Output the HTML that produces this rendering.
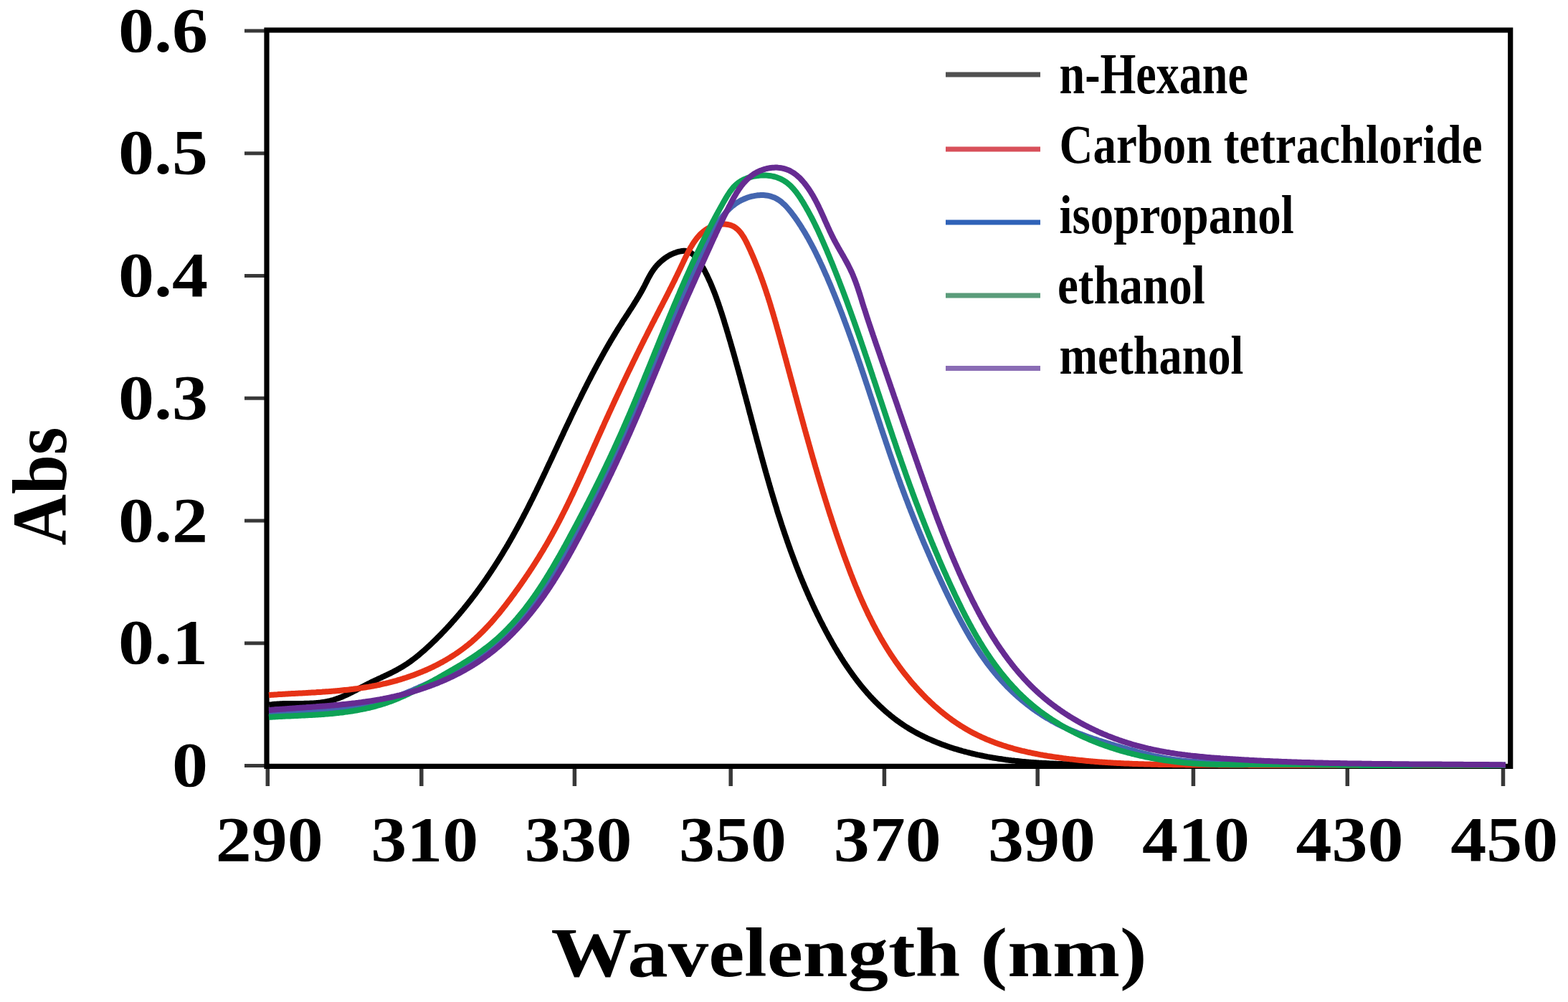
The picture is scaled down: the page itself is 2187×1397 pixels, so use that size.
<!DOCTYPE html>
<html><head><meta charset="utf-8"><title>Absorption spectra</title>
<style>html,body{margin:0;padding:0;background:#fff;width:2187px;height:1397px;overflow:hidden}svg{display:block}</style>
</head><body><div id="wrap">
<svg width="2187" height="1397" viewBox="0 0 2187 1397">
<g>
<rect width="100%" height="100%" fill="#fff"/>
<g font-family="'Liberation Serif', 'Times New Roman', serif" font-weight="bold" fill="#000">
<text transform="translate(290.0,1096.0) scale(1.1200,1)" font-size="89.3" text-anchor="end" >0</text>
<text transform="translate(290.0,925.2) scale(1.1200,1)" font-size="89.3" text-anchor="end" >0.1</text>
<text transform="translate(290.0,754.5) scale(1.1200,1)" font-size="89.3" text-anchor="end" >0.2</text>
<text transform="translate(290.0,583.8) scale(1.1200,1)" font-size="89.3" text-anchor="end" >0.3</text>
<text transform="translate(290.0,413.0) scale(1.1200,1)" font-size="89.3" text-anchor="end" >0.4</text>
<text transform="translate(290.0,242.2) scale(1.1200,1)" font-size="89.3" text-anchor="end" >0.5</text>
<text transform="translate(290.0,71.5) scale(1.1200,1)" font-size="89.3" text-anchor="end" >0.6</text>
<text transform="translate(375.7,1199.5) scale(1.1200,1)" font-size="89.3" text-anchor="middle" >290</text>
<text transform="translate(592.2,1199.5) scale(1.1200,1)" font-size="89.3" text-anchor="middle" >310</text>
<text transform="translate(806.5,1199.5) scale(1.1200,1)" font-size="89.3" text-anchor="middle" >330</text>
<text transform="translate(1021.9,1199.5) scale(1.1200,1)" font-size="89.3" text-anchor="middle" >350</text>
<text transform="translate(1237.7,1199.5) scale(1.1200,1)" font-size="89.3" text-anchor="middle" >370</text>
<text transform="translate(1453.0,1199.5) scale(1.1200,1)" font-size="89.3" text-anchor="middle" >390</text>
<text transform="translate(1668.0,1199.5) scale(1.1200,1)" font-size="89.3" text-anchor="middle" >410</text>
<text transform="translate(1882.5,1199.5) scale(1.1200,1)" font-size="89.3" text-anchor="middle" >430</text>
<text transform="translate(2098.3,1199.5) scale(1.1200,1)" font-size="89.3" text-anchor="middle" >450</text>
<text transform="translate(768.6,1360.8) scale(1.1640,1)" font-size="97" text-anchor="start" >Wavelength (nm)</text>
<text transform="translate(91.6,760.5) rotate(-90) scale(0.99,1.08)" font-size="100">Abs</text>
<text transform="translate(1477.5,129.7) scale(0.8010,1)" font-size="80" text-anchor="start" >n-Hexane</text>
<text transform="translate(1477.5,227.4) scale(0.8550,1)" font-size="76" text-anchor="start" >Carbon tetrachloride</text>
<text transform="translate(1477.5,325.1) scale(0.8550,1)" font-size="76" text-anchor="start" >isopropanol</text>
<text transform="translate(1475.0,422.8) scale(0.8550,1)" font-size="76" text-anchor="start" >ethanol</text>
<text transform="translate(1477.5,520.5) scale(0.8450,1)" font-size="76" text-anchor="start" >methanol</text>
</g>
<line x1="1319" y1="104" x2="1451" y2="104" stroke="#505050" stroke-width="7"/>
<line x1="1319" y1="208" x2="1451" y2="208" stroke="#d8505a" stroke-width="7"/>
<line x1="1319" y1="310" x2="1451" y2="310" stroke="#2f62b8" stroke-width="7"/>
<line x1="1319" y1="412" x2="1451" y2="412" stroke="#5a9c7a" stroke-width="7"/>
<line x1="1319" y1="513.6" x2="1451" y2="513.6" stroke="#8a6cb4" stroke-width="7"/>
<line x1="341" y1="1067.5" x2="372.0" y2="1067.5" stroke="#383838" stroke-width="5"/>
<line x1="341" y1="896.8" x2="372.0" y2="896.8" stroke="#383838" stroke-width="5"/>
<line x1="341" y1="726.0" x2="372.0" y2="726.0" stroke="#383838" stroke-width="5"/>
<line x1="341" y1="555.2" x2="372.0" y2="555.2" stroke="#383838" stroke-width="5"/>
<line x1="341" y1="384.5" x2="372.0" y2="384.5" stroke="#383838" stroke-width="5"/>
<line x1="341" y1="213.8" x2="372.0" y2="213.8" stroke="#383838" stroke-width="5"/>
<line x1="341" y1="43.0" x2="372.0" y2="43.0" stroke="#383838" stroke-width="5"/>
<line x1="373.3" y1="1068.4" x2="373.3" y2="1096" stroke="#383838" stroke-width="5.5"/>
<line x1="587.8" y1="1068.4" x2="587.8" y2="1096" stroke="#383838" stroke-width="5.5"/>
<line x1="801.4" y1="1068.4" x2="801.4" y2="1096" stroke="#383838" stroke-width="5.5"/>
<line x1="1019.2" y1="1068.4" x2="1019.2" y2="1096" stroke="#383838" stroke-width="5.5"/>
<line x1="1233.4" y1="1068.4" x2="1233.4" y2="1096" stroke="#383838" stroke-width="5.5"/>
<line x1="1447.2" y1="1068.4" x2="1447.2" y2="1096" stroke="#383838" stroke-width="5.5"/>
<line x1="1664.4" y1="1068.4" x2="1664.4" y2="1096" stroke="#383838" stroke-width="5.5"/>
<line x1="1879.3" y1="1068.4" x2="1879.3" y2="1096" stroke="#383838" stroke-width="5.5"/>
<line x1="2096.5" y1="1068.4" x2="2096.5" y2="1096" stroke="#383838" stroke-width="5.5"/>
<rect x="372.0" y="42.0" width="1734.6999999999998" height="1026.4" fill="none" stroke="#000" stroke-width="7.2"/>
<path d="M375.2,982.8 377.1,982.5 379.1,982.3 381.1,982.0 383.1,981.8 385.1,981.7 387.1,981.5 389.1,981.4 391.1,981.3 393.1,981.2 395.1,981.1 397.1,981.1 399.1,981.0 401.1,981.0 403.1,981.0 405.1,981.0 407.1,981.0 409.1,980.9 411.1,980.9 413.1,980.9 415.1,980.9 417.0,980.9 419.0,980.9 421.0,980.9 423.0,980.9 425.0,980.8 427.0,980.8 429.0,980.7 431.0,980.7 433.0,980.6 435.0,980.5 437.0,980.4 439.0,980.2 441.0,980.1 443.0,979.9 445.0,979.7 447.0,979.5 449.0,979.2 450.9,978.9 452.9,978.6 454.9,978.3 456.8,977.9 458.8,977.5 460.7,977.0 462.7,976.5 464.6,976.0 466.5,975.4 468.4,974.8 470.3,974.1 472.2,973.4 474.0,972.7 475.9,972.0 477.8,971.2 479.6,970.4 481.4,969.6 483.2,968.8 485.0,968.0 486.8,967.1 488.6,966.2 490.4,965.3 492.2,964.4 494.0,963.5 495.8,962.6 497.5,961.7 499.3,960.7 501.1,959.8 502.8,958.9 504.6,957.9 506.4,957.0 508.2,956.1 509.9,955.2 511.7,954.3 513.5,953.4 515.3,952.5 517.1,951.6 518.9,950.7 520.7,949.8 522.5,949.0 524.3,948.1 526.1,947.3 527.9,946.4 529.7,945.6 531.5,944.8 533.3,943.9 535.2,943.1 537.0,942.2 538.8,941.4 540.6,940.5 542.4,939.7 544.2,938.8 546.0,937.9 547.8,937.0 549.5,936.1 551.3,935.2 553.1,934.3 554.8,933.3 556.6,932.3 558.3,931.3 560.1,930.3 561.8,929.3 563.5,928.2 565.1,927.2 566.8,926.1 568.5,925.0 570.1,923.8 571.8,922.7 573.4,921.5 575.0,920.3 576.6,919.1 578.2,917.9 579.8,916.7 581.3,915.4 582.9,914.2 584.4,912.9 586.0,911.6 587.5,910.3 589.0,909.0 590.5,907.7 592.0,906.4 593.5,905.1 595.0,903.7 596.4,902.4 597.9,901.0 599.4,899.7 600.8,898.3 602.3,896.9 603.7,895.5 605.2,894.1 606.6,892.8 608.0,891.4 609.4,889.9 610.8,888.5 612.3,887.1 613.7,885.7 615.1,884.3 616.5,882.8 617.8,881.4 619.2,880.0 620.6,878.5 622.0,877.0 623.3,875.6 624.7,874.1 626.0,872.7 627.4,871.2 628.7,869.7 630.1,868.2 631.4,866.7 632.7,865.2 634.1,863.7 635.4,862.2 636.7,860.7 638.0,859.2 639.3,857.7 640.6,856.2 641.9,854.6 643.1,853.1 644.4,851.6 645.7,850.0 647.0,848.5 648.2,846.9 649.5,845.4 650.7,843.8 652.0,842.2 653.2,840.7 654.5,839.1 655.7,837.5 656.9,836.0 658.1,834.4 659.3,832.8 660.6,831.2 661.8,829.6 663.0,828.0 664.2,826.4 665.3,824.8 666.5,823.2 667.7,821.6 668.9,820.0 670.1,818.3 671.2,816.7 672.4,815.1 673.5,813.5 674.7,811.8 675.8,810.2 677.0,808.5 678.1,806.9 679.2,805.3 680.4,803.6 681.5,801.9 682.6,800.3 683.7,798.6 684.8,797.0 685.9,795.3 687.0,793.6 688.1,792.0 689.2,790.3 690.3,788.6 691.4,786.9 692.5,785.2 693.5,783.6 694.6,781.9 695.7,780.2 696.7,778.5 697.8,776.8 698.8,775.1 699.9,773.4 700.9,771.7 701.9,770.0 703.0,768.2 704.0,766.5 705.0,764.8 706.1,763.1 707.1,761.4 708.1,759.7 709.1,757.9 710.1,756.2 711.1,754.5 712.1,752.7 713.1,751.0 714.1,749.3 715.1,747.5 716.0,745.8 717.0,744.0 718.0,742.3 718.9,740.5 719.9,738.8 720.9,737.0 721.8,735.3 722.8,733.5 723.7,731.8 724.7,730.0 725.6,728.3 726.6,726.5 727.5,724.7 728.4,723.0 729.4,721.2 730.3,719.4 731.2,717.6 732.1,715.9 733.1,714.1 734.0,712.3 734.9,710.5 735.8,708.8 736.7,707.0 737.6,705.2 738.5,703.4 739.4,701.6 740.3,699.8 741.2,698.0 742.1,696.3 743.0,694.5 743.9,692.7 744.7,690.9 745.6,689.1 746.5,687.3 747.4,685.5 748.3,683.7 749.1,681.9 750.0,680.1 750.9,678.3 751.7,676.5 752.6,674.7 753.5,672.9 754.3,671.1 755.2,669.3 756.1,667.5 756.9,665.7 757.8,663.9 758.6,662.1 759.5,660.3 760.3,658.5 761.2,656.7 762.0,654.9 762.9,653.0 763.7,651.2 764.6,649.4 765.4,647.6 766.3,645.8 767.1,644.0 768.0,642.2 768.8,640.4 769.7,638.6 770.5,636.8 771.4,634.9 772.2,633.1 773.0,631.3 773.9,629.5 774.7,627.7 775.6,625.9 776.4,624.1 777.3,622.3 778.1,620.4 778.9,618.6 779.8,616.8 780.6,615.0 781.5,613.2 782.3,611.4 783.2,609.6 784.0,607.8 784.9,606.0 785.7,604.1 786.5,602.3 787.4,600.5 788.2,598.7 789.1,596.9 789.9,595.1 790.8,593.3 791.6,591.5 792.5,589.7 793.4,587.9 794.2,586.1 795.1,584.3 795.9,582.5 796.8,580.6 797.6,578.8 798.5,577.0 799.4,575.2 800.2,573.4 801.1,571.6 802.0,569.8 802.8,568.0 803.7,566.2 804.6,564.4 805.5,562.6 806.3,560.8 807.2,559.0 808.1,557.3 809.0,555.5 809.9,553.7 810.7,551.9 811.6,550.1 812.5,548.3 813.4,546.5 814.3,544.7 815.2,542.9 816.1,541.1 817.0,539.4 817.9,537.6 818.8,535.8 819.7,534.0 820.6,532.2 821.5,530.5 822.5,528.7 823.4,526.9 824.3,525.1 825.2,523.4 826.1,521.6 827.1,519.8 828.0,518.1 828.9,516.3 829.9,514.5 830.8,512.8 831.8,511.0 832.7,509.2 833.7,507.5 834.6,505.7 835.6,504.0 836.5,502.2 837.5,500.5 838.5,498.7 839.4,497.0 840.4,495.2 841.4,493.5 842.3,491.7 843.3,490.0 844.3,488.3 845.3,486.5 846.3,484.8 847.3,483.0 848.3,481.3 849.3,479.6 850.3,477.9 851.3,476.1 852.3,474.4 853.4,472.7 854.4,471.0 855.4,469.3 856.4,467.6 857.5,465.8 858.5,464.1 859.6,462.4 860.6,460.7 861.6,459.0 862.7,457.3 863.8,455.6 864.8,454.0 865.9,452.3 867.0,450.6 868.0,448.9 869.1,447.2 870.2,445.5 871.3,443.9 872.4,442.2 873.5,440.5 874.6,438.8 875.7,437.2 876.8,435.5 877.8,433.8 878.9,432.1 880.0,430.5 881.1,428.8 882.2,427.1 883.3,425.4 884.3,423.7 885.4,422.0 886.4,420.3 887.5,418.6 888.5,416.9 889.6,415.2 890.6,413.5 891.6,411.8 892.6,410.1 893.6,408.3 894.6,406.6 895.6,404.8 896.5,403.1 897.5,401.3 898.4,399.5 899.3,397.8 900.2,396.0 901.1,394.2 902.0,392.4 902.9,390.6 903.8,388.8 904.7,387.1 905.7,385.3 906.7,383.6 907.7,381.8 908.7,380.1 909.8,378.4 910.9,376.8 912.1,375.2 913.3,373.6 914.5,372.0 915.8,370.5 917.2,369.0 918.6,367.6 920.0,366.2 921.5,364.8 923.0,363.5 924.5,362.2 926.1,361.0 927.7,359.8 929.3,358.7 931.0,357.6 932.7,356.6 934.5,355.6 936.3,354.7 938.1,353.9 939.9,353.1 941.8,352.4 943.7,351.7 945.6,351.2 947.5,350.7 949.5,350.3 951.5,350.0 953.4,349.8 955.4,349.8 957.4,350.1 959.4,350.6 961.2,351.3 963.0,352.2 964.7,353.2 966.3,354.4 967.8,355.8 969.2,357.2 970.6,358.6 971.9,360.2 973.1,361.7 974.3,363.3 975.4,365.0 976.5,366.6 977.6,368.3 978.6,370.0 979.7,371.8 980.7,373.5 981.6,375.2 982.6,377.0 983.5,378.8 984.4,380.6 985.3,382.3 986.2,384.1 987.0,385.9 987.9,387.8 988.7,389.6 989.5,391.4 990.4,393.2 991.2,395.0 991.9,396.9 992.7,398.7 993.5,400.6 994.2,402.4 995.0,404.3 995.7,406.1 996.5,408.0 997.2,409.9 997.9,411.7 998.6,413.6 999.3,415.5 999.9,417.4 1000.6,419.2 1001.3,421.1 1001.9,423.0 1002.6,424.9 1003.2,426.8 1003.9,428.7 1004.5,430.6 1005.1,432.5 1005.7,434.4 1006.4,436.3 1007.0,438.2 1007.6,440.1 1008.2,442.0 1008.8,443.9 1009.4,445.8 1010.0,447.7 1010.5,449.6 1011.1,451.5 1011.7,453.5 1012.3,455.4 1012.9,457.3 1013.5,459.2 1014.0,461.1 1014.6,463.0 1015.2,464.9 1015.7,466.9 1016.3,468.8 1016.9,470.7 1017.4,472.6 1018.0,474.5 1018.6,476.4 1019.1,478.4 1019.7,480.3 1020.2,482.2 1020.8,484.1 1021.3,486.0 1021.9,488.0 1022.4,489.9 1023.0,491.8 1023.5,493.7 1024.1,495.6 1024.6,497.6 1025.2,499.5 1025.7,501.4 1026.2,503.3 1026.8,505.3 1027.3,507.2 1027.8,509.1 1028.4,511.0 1028.9,513.0 1029.4,514.9 1030.0,516.8 1030.5,518.8 1031.0,520.7 1031.6,522.6 1032.1,524.5 1032.6,526.5 1033.1,528.4 1033.7,530.3 1034.2,532.3 1034.7,534.2 1035.2,536.1 1035.7,538.0 1036.3,540.0 1036.8,541.9 1037.3,543.8 1037.8,545.8 1038.3,547.7 1038.8,549.6 1039.4,551.6 1039.9,553.5 1040.4,555.4 1040.9,557.3 1041.4,559.3 1041.9,561.2 1042.5,563.1 1043.0,565.1 1043.5,567.0 1044.0,568.9 1044.5,570.9 1045.0,572.8 1045.5,574.7 1046.0,576.7 1046.6,578.6 1047.1,580.5 1047.6,582.5 1048.1,584.4 1048.6,586.3 1049.1,588.2 1049.6,590.2 1050.2,592.1 1050.7,594.0 1051.2,596.0 1051.7,597.9 1052.2,599.8 1052.7,601.8 1053.2,603.7 1053.8,605.6 1054.3,607.6 1054.8,609.5 1055.3,611.4 1055.8,613.4 1056.3,615.3 1056.9,617.2 1057.4,619.1 1057.9,621.1 1058.4,623.0 1059.0,624.9 1059.5,626.9 1060.0,628.8 1060.5,630.7 1061.1,632.6 1061.6,634.6 1062.1,636.5 1062.6,638.4 1063.2,640.4 1063.7,642.3 1064.2,644.2 1064.8,646.1 1065.3,648.1 1065.8,650.0 1066.4,651.9 1066.9,653.8 1067.4,655.8 1068.0,657.7 1068.5,659.6 1069.1,661.5 1069.6,663.4 1070.2,665.4 1070.7,667.3 1071.3,669.2 1071.8,671.1 1072.4,673.1 1072.9,675.0 1073.5,676.9 1074.0,678.8 1074.6,680.7 1075.2,682.7 1075.7,684.6 1076.3,686.5 1076.9,688.4 1077.4,690.3 1078.0,692.2 1078.6,694.1 1079.2,696.1 1079.7,698.0 1080.3,699.9 1080.9,701.8 1081.5,703.7 1082.1,705.6 1082.7,707.5 1083.3,709.4 1083.8,711.3 1084.4,713.3 1085.0,715.2 1085.6,717.1 1086.2,719.0 1086.9,720.9 1087.5,722.8 1088.1,724.7 1088.7,726.6 1089.3,728.5 1089.9,730.4 1090.5,732.3 1091.2,734.2 1091.8,736.1 1092.4,738.0 1093.1,739.9 1093.7,741.8 1094.3,743.7 1095.0,745.6 1095.6,747.4 1096.3,749.3 1096.9,751.2 1097.6,753.1 1098.2,755.0 1098.9,756.9 1099.6,758.8 1100.2,760.7 1100.9,762.5 1101.6,764.4 1102.2,766.3 1102.9,768.2 1103.6,770.1 1104.3,771.9 1105.0,773.8 1105.7,775.7 1106.4,777.6 1107.1,779.4 1107.8,781.3 1108.5,783.2 1109.2,785.0 1109.9,786.9 1110.6,788.8 1111.3,790.6 1112.1,792.5 1112.8,794.4 1113.5,796.2 1114.3,798.1 1115.0,799.9 1115.7,801.8 1116.5,803.6 1117.2,805.5 1118.0,807.3 1118.8,809.2 1119.5,811.0 1120.3,812.9 1121.1,814.7 1121.8,816.6 1122.6,818.4 1123.4,820.2 1124.2,822.1 1125.0,823.9 1125.8,825.7 1126.6,827.6 1127.4,829.4 1128.2,831.2 1129.0,833.1 1129.8,834.9 1130.7,836.7 1131.5,838.5 1132.3,840.3 1133.2,842.2 1134.0,844.0 1134.8,845.8 1135.7,847.6 1136.5,849.4 1137.4,851.2 1138.3,853.0 1139.1,854.8 1140.0,856.6 1140.9,858.4 1141.8,860.2 1142.7,862.0 1143.5,863.8 1144.4,865.6 1145.3,867.3 1146.3,869.1 1147.2,870.9 1148.1,872.7 1149.0,874.5 1149.9,876.2 1150.9,878.0 1151.8,879.8 1152.7,881.5 1153.7,883.3 1154.6,885.0 1155.6,886.8 1156.5,888.6 1157.5,890.3 1158.5,892.0 1159.5,893.8 1160.4,895.5 1161.4,897.3 1162.4,899.0 1163.4,900.7 1164.4,902.5 1165.4,904.2 1166.5,905.9 1167.5,907.6 1168.5,909.3 1169.6,911.0 1170.6,912.7 1171.7,914.4 1172.7,916.1 1173.8,917.8 1174.9,919.5 1175.9,921.2 1177.0,922.9 1178.1,924.5 1179.2,926.2 1180.3,927.9 1181.5,929.5 1182.6,931.2 1183.7,932.8 1184.9,934.5 1186.0,936.1 1187.2,937.7 1188.3,939.3 1189.5,941.0 1190.7,942.6 1191.9,944.2 1193.1,945.8 1194.3,947.4 1195.5,949.0 1196.7,950.5 1197.9,952.1 1199.2,953.7 1200.4,955.2 1201.7,956.8 1203.0,958.3 1204.2,959.9 1205.5,961.4 1206.8,962.9 1208.1,964.4 1209.4,965.9 1210.8,967.4 1212.1,968.9 1213.4,970.4 1214.8,971.9 1216.2,973.3 1217.5,974.8 1218.9,976.2 1220.3,977.7 1221.7,979.1 1223.1,980.5 1224.6,981.9 1226.0,983.3 1227.4,984.7 1228.9,986.0 1230.4,987.4 1231.8,988.8 1233.3,990.1 1234.8,991.4 1236.3,992.7 1237.8,994.0 1239.4,995.3 1240.9,996.6 1242.4,997.9 1244.0,999.1 1245.6,1000.4 1247.1,1001.6 1248.7,1002.8 1250.3,1004.0 1251.9,1005.2 1253.6,1006.3 1255.2,1007.5 1256.8,1008.6 1258.5,1009.8 1260.1,1010.9 1261.8,1012.0 1263.5,1013.1 1265.2,1014.1 1266.9,1015.2 1268.6,1016.2 1270.3,1017.2 1272.0,1018.3 1273.8,1019.3 1275.5,1020.2 1277.3,1021.2 1279.0,1022.2 1280.8,1023.1 1282.5,1024.0 1284.3,1024.9 1286.1,1025.8 1287.9,1026.7 1289.7,1027.6 1291.5,1028.4 1293.3,1029.3 1295.1,1030.1 1297.0,1030.9 1298.8,1031.7 1300.6,1032.5 1302.5,1033.3 1304.3,1034.1 1306.2,1034.8 1308.0,1035.6 1309.9,1036.3 1311.7,1037.0 1313.6,1037.7 1315.5,1038.4 1317.4,1039.1 1319.2,1039.8 1321.1,1040.4 1323.0,1041.1 1324.9,1041.7 1326.8,1042.4 1328.7,1043.0 1330.6,1043.6 1332.5,1044.2 1334.4,1044.7 1336.4,1045.3 1338.3,1045.9 1340.2,1046.4 1342.1,1047.0 1344.0,1047.5 1346.0,1048.0 1347.9,1048.5 1349.8,1049.0 1351.8,1049.5 1353.7,1050.0 1355.7,1050.5 1357.6,1051.0 1359.6,1051.4 1361.5,1051.8 1363.5,1052.3 1365.4,1052.7 1367.4,1053.1 1369.3,1053.5 1371.3,1053.9 1373.2,1054.3 1375.2,1054.7 1377.2,1055.1 1379.1,1055.4 1381.1,1055.8 1383.1,1056.1 1385.0,1056.5 1387.0,1056.8 1389.0,1057.1 1390.9,1057.4 1392.9,1057.8 1394.9,1058.1 1396.9,1058.3 1398.9,1058.6 1400.8,1058.9 1402.8,1059.2 1404.8,1059.4 1406.8,1059.7 1408.8,1059.9 1410.7,1060.2 1412.7,1060.4 1414.7,1060.6 1416.7,1060.9 1418.7,1061.1 1420.7,1061.3 1422.7,1061.5 1424.7,1061.7 1426.6,1061.9 1428.6,1062.0 1430.6,1062.2 1432.6,1062.4 1434.6,1062.6 1436.6,1062.7 1438.6,1062.9 1440.6,1063.0 1442.6,1063.2 1444.6,1063.3 1446.6,1063.4 1448.6,1063.6 1450.6,1063.7 1452.5,1063.8 1454.5,1063.9 1456.5,1064.0 1458.5,1064.1 1460.5,1064.2 1462.5,1064.3 1464.5,1064.4 1466.5,1064.5 1468.5,1064.6 1470.5,1064.7 1472.5,1064.8 1474.5,1064.9 1476.5,1064.9 1478.5,1065.0 1480.5,1065.1 1482.5,1065.2 1484.5,1065.2 1486.5,1065.3 1488.5,1065.3 1490.5,1065.4 1492.5,1065.4 1494.5,1065.5 1496.5,1065.6 1498.5,1065.6 1500.5,1065.6 1502.5,1065.7 1504.5,1065.7 1506.5,1065.8 1508.5,1065.8 1510.5,1065.9 1512.5,1065.9 1514.5,1065.9 1516.5,1066.0 1518.5,1066.0 1520.5,1066.0 1522.5,1066.1 1524.5,1066.1 1526.5,1066.1 1528.5,1066.2 1530.5,1066.2 1532.4,1066.2 1534.4,1066.3 1536.4,1066.3 1538.4,1066.3 1540.4,1066.4 1542.4,1066.4 1544.4,1066.4 1546.4,1066.4 1548.4,1066.5 1550.4,1066.5 1552.4,1066.5 1554.4,1066.5 1556.4,1066.6 1558.4,1066.6 1560.4,1066.6 1562.4,1066.6 1564.4,1066.6 1566.4,1066.7 1568.4,1066.7 1570.4,1066.7 1572.4,1066.7 1574.4,1066.7 1576.4,1066.8 1578.4,1066.8 1580.4,1066.8 1582.4,1066.8 1584.4,1066.8 1586.4,1066.8 1588.4,1066.8 1590.4,1066.9 1592.4,1066.9 1594.4,1066.9 1596.4,1066.9 1598.4,1066.9 1600.4,1066.9 1602.4,1066.9 1604.4,1066.9 1606.4,1066.9 1608.4,1066.9 1610.4,1067.0 1612.4,1067.0 1614.4,1067.0 1616.4,1067.0 1618.4,1067.0 1620.4,1067.0 1622.4,1067.0 1624.4,1067.0 1626.4,1067.0 1628.4,1067.0 1630.4,1067.0 1632.4,1067.0 1634.4,1067.0 1636.4,1067.0 1638.4,1067.0 1640.4,1067.0 1642.4,1067.0 1644.4,1067.0 1646.4,1067.0 1648.4,1067.0 1650.4,1067.0 1652.4,1067.1 1654.4,1067.1 1656.4,1067.1 1658.4,1067.1 1660.4,1067.1 1662.4,1067.1 1664.3,1067.1 1666.3,1067.1 1668.3,1067.1 1670.3,1067.1 1672.3,1067.1 1674.3,1067.1 1676.3,1067.1 1678.3,1067.1 1680.3,1067.1 1682.3,1067.1 1684.3,1067.1 1686.3,1067.1 1688.3,1067.1 1690.3,1067.1 1692.3,1067.1 1694.3,1067.1 1696.3,1067.1 1698.3,1067.1 1700.3,1067.1 1702.3,1067.0 1704.3,1067.0 1706.3,1067.0 1708.3,1067.0 1710.3,1067.0 1712.3,1067.0 1714.3,1067.0 1716.3,1067.0 1718.3,1067.0 1720.3,1067.0 1722.3,1067.0 1724.3,1067.0 1726.3,1067.0 1728.3,1067.0 1730.3,1067.0 1732.3,1067.0 1734.3,1067.0 1736.3,1067.0 1738.3,1067.0 1740.3,1067.0 1742.3,1067.0 1744.3,1067.0 1746.3,1067.0 1748.3,1067.0 1750.3,1067.0 1752.3,1067.0 1754.3,1067.0 1756.3,1067.0 1758.3,1067.0 1760.3,1067.0 1762.3,1067.0 1764.3,1067.0 1766.3,1067.0 1768.3,1067.0 1770.3,1067.0 1772.3,1067.0 1774.3,1067.0 1776.3,1067.0 1778.3,1067.0 1780.3,1067.0 1782.3,1067.0 1784.3,1067.0 1786.3,1067.0 1788.3,1067.0 1790.3,1067.0 1792.3,1067.0 1794.3,1067.0 1796.3,1067.0 1798.3,1067.0 1800.3,1067.0 1802.3,1067.0 1804.2,1067.0 1806.2,1067.0 1808.2,1067.0 1810.2,1067.0 1812.2,1067.0 1814.2,1067.0 1816.2,1067.0 1818.2,1067.0 1820.2,1067.0 1822.2,1067.0 1824.2,1067.0 1826.2,1067.0 1828.2,1067.0 1830.2,1067.0 1832.2,1067.0 1834.2,1067.0 1836.2,1067.0 1838.2,1067.0 1840.2,1067.0 1842.2,1067.0 1844.2,1067.0 1846.2,1067.0 1848.2,1067.0 1850.2,1067.0 1852.2,1067.0 1854.2,1067.0 1856.2,1067.0 1858.2,1067.0 1860.2,1067.0 1862.2,1067.0 1864.2,1067.0 1866.2,1067.0 1868.2,1067.0 1870.2,1067.0 1872.2,1067.0 1874.2,1067.0 1876.2,1067.0 1878.2,1067.0 1880.2,1067.0 1882.2,1067.0 1884.2,1067.0 1886.2,1067.0 1888.2,1067.0 1890.2,1067.0 1892.2,1067.0 1894.2,1067.0 1896.2,1067.0 1898.2,1067.0 1900.2,1067.0 1902.2,1067.0 1904.2,1067.0 1906.2,1067.0 1908.2,1067.0 1910.2,1067.0 1912.2,1067.0 1914.2,1067.0 1916.2,1067.0 1918.2,1067.0 1920.2,1067.0 1922.2,1067.0 1924.2,1067.0 1926.2,1067.0 1928.2,1067.0 1930.2,1067.0 1932.2,1067.0 1934.2,1067.0 1936.2,1067.0 1938.2,1067.0 1940.2,1067.0 1942.1,1067.0 1944.1,1067.0 1946.1,1067.0 1948.1,1067.0 1950.1,1067.0 1952.1,1067.0 1954.1,1067.0 1956.1,1067.0 1958.1,1067.0 1960.1,1067.0 1962.1,1067.0 1964.1,1067.0 1966.1,1067.0 1968.1,1067.0 1970.1,1067.0 1972.1,1067.0 1974.1,1067.0 1976.1,1067.0 1978.1,1067.0 1980.1,1067.0 1982.1,1067.0 1984.1,1067.0 1986.1,1067.0 1988.1,1067.0 1990.1,1067.0 1992.1,1067.0 1994.1,1067.0 1996.1,1067.0 1998.1,1067.0 2000.1,1067.0 2002.1,1067.0 2004.1,1067.0 2006.1,1067.0 2008.1,1067.0 2010.1,1067.0 2012.1,1067.0 2014.1,1067.0 2016.1,1067.0 2018.1,1067.0 2020.1,1067.0 2022.1,1067.0 2024.1,1067.0 2026.1,1067.0 2028.1,1067.0 2030.1,1067.0 2032.1,1067.0 2034.1,1067.0 2036.1,1067.0 2038.1,1067.0 2040.1,1067.0 2042.1,1067.0 2044.1,1067.0 2046.1,1067.0 2048.1,1067.0 2050.1,1067.0 2052.1,1067.0 2054.1,1067.0 2056.1,1067.0 2058.1,1067.0 2060.1,1067.0 2062.1,1067.0 2064.1,1067.0 2066.1,1067.0 2068.1,1067.0 2070.1,1067.0 2072.1,1067.0 2074.1,1067.0 2076.1,1067.0 2078.1,1067.0 2080.1,1067.0 2082.0,1067.0 2084.0,1067.0 2086.0,1067.0 2088.0,1067.0 2090.0,1067.0 2092.0,1067.0 2094.0,1067.0 2096.0,1067.0 2098.0,1067.0 2100.0,1067.0" fill="none" stroke="#000000" stroke-width="8" stroke-linejoin="round" stroke-linecap="butt"/>
<path d="M375.0,969.1 376.9,968.9 378.9,968.8 380.9,968.7 382.9,968.5 384.9,968.4 386.9,968.3 388.9,968.1 390.9,968.0 392.9,967.9 394.9,967.8 396.9,967.7 398.9,967.6 400.9,967.5 402.9,967.3 404.9,967.2 406.9,967.1 408.9,967.0 410.9,966.9 412.9,966.8 414.9,966.7 416.9,966.6 418.9,966.5 420.9,966.4 422.9,966.3 424.8,966.2 426.8,966.1 428.8,965.9 430.8,965.8 432.8,965.7 434.8,965.6 436.8,965.5 438.8,965.4 440.8,965.3 442.8,965.1 444.8,965.0 446.8,964.9 448.8,964.8 450.8,964.6 452.8,964.5 454.8,964.3 456.8,964.2 458.8,964.1 460.8,963.9 462.8,963.7 464.7,963.6 466.7,963.4 468.7,963.2 470.7,963.1 472.7,962.9 474.7,962.7 476.7,962.5 478.7,962.3 480.7,962.1 482.7,961.9 484.6,961.7 486.6,961.5 488.6,961.2 490.6,961.0 492.6,960.8 494.6,960.5 496.6,960.2 498.5,960.0 500.5,959.7 502.5,959.4 504.5,959.1 506.5,958.8 508.4,958.5 510.4,958.2 512.4,957.9 514.3,957.6 516.3,957.2 518.3,956.9 520.3,956.5 522.2,956.1 524.2,955.8 526.1,955.4 528.1,955.0 530.1,954.5 532.0,954.1 534.0,953.7 535.9,953.2 537.9,952.8 539.8,952.3 541.7,951.9 543.7,951.4 545.6,950.9 547.6,950.4 549.5,949.8 551.4,949.3 553.3,948.8 555.3,948.2 557.2,947.7 559.1,947.1 561.0,946.5 562.9,945.9 564.8,945.3 566.7,944.7 568.6,944.0 570.5,943.4 572.4,942.8 574.3,942.1 576.2,941.4 578.0,940.7 579.9,940.0 581.8,939.3 583.6,938.6 585.5,937.8 587.4,937.1 589.2,936.3 591.0,935.6 592.9,934.8 594.7,934.0 596.5,933.2 598.4,932.3 600.2,931.5 602.0,930.7 603.8,929.8 605.6,928.9 607.4,928.0 609.2,927.1 610.9,926.2 612.7,925.3 614.5,924.3 616.2,923.4 618.0,922.4 619.7,921.4 621.5,920.5 623.2,919.4 624.9,918.4 626.6,917.4 628.3,916.3 630.0,915.3 631.7,914.2 633.4,913.1 635.1,912.0 636.7,910.9 638.4,909.8 640.0,908.6 641.6,907.5 643.3,906.3 644.9,905.1 646.5,903.9 648.1,902.7 649.6,901.5 651.2,900.3 652.8,899.0 654.3,897.7 655.9,896.5 657.4,895.2 658.9,893.9 660.4,892.5 661.9,891.2 663.4,889.9 664.8,888.5 666.3,887.2 667.8,885.8 669.2,884.4 670.6,883.0 672.1,881.6 673.5,880.2 674.9,878.8 676.3,877.3 677.7,875.9 679.0,874.4 680.4,873.0 681.8,871.5 683.1,870.0 684.5,868.6 685.8,867.1 687.1,865.6 688.4,864.1 689.7,862.6 691.0,861.0 692.3,859.5 693.6,858.0 694.9,856.5 696.2,854.9 697.4,853.4 698.7,851.8 699.9,850.3 701.2,848.7 702.4,847.1 703.7,845.5 704.9,844.0 706.1,842.4 707.3,840.8 708.5,839.2 709.8,837.6 711.0,836.0 712.2,834.4 713.3,832.8 714.5,831.2 715.7,829.6 716.9,828.0 718.1,826.4 719.2,824.7 720.4,823.1 721.6,821.5 722.7,819.9 723.9,818.2 725.1,816.6 726.2,815.0 727.3,813.3 728.5,811.7 729.6,810.1 730.8,808.4 731.9,806.8 733.0,805.1 734.1,803.4 735.3,801.8 736.4,800.1 737.5,798.5 738.6,796.8 739.7,795.1 740.8,793.5 741.9,791.8 743.0,790.1 744.1,788.4 745.1,786.8 746.2,785.1 747.3,783.4 748.4,781.7 749.4,780.0 750.5,778.3 751.6,776.6 752.6,774.9 753.6,773.2 754.7,771.5 755.7,769.8 756.8,768.1 757.8,766.4 758.8,764.7 759.8,762.9 760.9,761.2 761.9,759.5 762.9,757.8 763.9,756.0 764.9,754.3 765.9,752.6 766.8,750.8 767.8,749.1 768.8,747.3 769.8,745.6 770.7,743.8 771.7,742.1 772.7,740.3 773.6,738.6 774.6,736.8 775.5,735.1 776.5,733.3 777.4,731.5 778.3,729.8 779.2,728.0 780.2,726.2 781.1,724.4 782.0,722.7 782.9,720.9 783.8,719.1 784.7,717.3 785.6,715.5 786.5,713.7 787.4,712.0 788.3,710.2 789.2,708.4 790.1,706.6 791.0,704.8 791.8,703.0 792.7,701.2 793.6,699.4 794.5,697.6 795.3,695.8 796.2,694.0 797.0,692.2 797.9,690.4 798.8,688.6 799.6,686.8 800.5,685.0 801.3,683.1 802.2,681.3 803.0,679.5 803.8,677.7 804.7,675.9 805.5,674.1 806.3,672.3 807.2,670.4 808.0,668.6 808.8,666.8 809.7,665.0 810.5,663.2 811.3,661.3 812.1,659.5 813.0,657.7 813.8,655.9 814.6,654.0 815.4,652.2 816.2,650.4 817.1,648.6 817.9,646.8 818.7,644.9 819.5,643.1 820.3,641.3 821.1,639.4 821.9,637.6 822.8,635.8 823.6,634.0 824.4,632.1 825.2,630.3 826.0,628.5 826.8,626.7 827.6,624.8 828.4,623.0 829.2,621.2 830.1,619.3 830.9,617.5 831.7,615.7 832.5,613.9 833.3,612.0 834.1,610.2 834.9,608.4 835.7,606.6 836.6,604.7 837.4,602.9 838.2,601.1 839.0,599.3 839.8,597.4 840.7,595.6 841.5,593.8 842.3,592.0 843.1,590.2 843.9,588.3 844.8,586.5 845.6,584.7 846.4,582.9 847.3,581.1 848.1,579.2 848.9,577.4 849.7,575.6 850.6,573.8 851.4,572.0 852.3,570.1 853.1,568.3 853.9,566.5 854.8,564.7 855.6,562.9 856.4,561.1 857.3,559.3 858.1,557.4 859.0,555.6 859.8,553.8 860.7,552.0 861.5,550.2 862.4,548.4 863.2,546.6 864.1,544.8 864.9,543.0 865.8,541.2 866.6,539.3 867.5,537.5 868.3,535.7 869.2,533.9 870.0,532.1 870.9,530.3 871.8,528.5 872.6,526.7 873.5,524.9 874.3,523.1 875.2,521.3 876.1,519.5 876.9,517.7 877.8,515.9 878.7,514.1 879.6,512.3 880.4,510.5 881.3,508.7 882.2,506.9 883.0,505.1 883.9,503.3 884.8,501.5 885.7,499.7 886.6,497.9 887.4,496.1 888.3,494.3 889.2,492.5 890.1,490.7 891.0,488.9 891.9,487.1 892.7,485.4 893.6,483.6 894.5,481.8 895.4,480.0 896.3,478.2 897.2,476.4 898.1,474.6 899.0,472.8 899.9,471.0 900.8,469.3 901.7,467.5 902.6,465.7 903.5,463.9 904.4,462.1 905.3,460.3 906.2,458.6 907.1,456.8 908.0,455.0 908.9,453.2 909.8,451.4 910.7,449.7 911.7,447.9 912.6,446.1 913.5,444.3 914.4,442.5 915.3,440.8 916.2,439.0 917.2,437.2 918.1,435.4 919.0,433.7 919.9,431.9 920.8,430.1 921.7,428.3 922.7,426.6 923.6,424.8 924.5,423.0 925.4,421.2 926.3,419.5 927.2,417.7 928.2,415.9 929.1,414.1 930.0,412.3 930.9,410.6 931.8,408.8 932.7,407.0 933.6,405.2 934.5,403.4 935.4,401.6 936.3,399.9 937.2,398.1 938.1,396.3 939.0,394.5 939.9,392.7 940.8,390.9 941.7,389.1 942.5,387.3 943.4,385.5 944.3,383.7 945.2,381.9 946.0,380.1 946.9,378.3 947.8,376.5 948.6,374.7 949.5,372.9 950.3,371.1 951.2,369.3 952.0,367.5 952.9,365.7 953.7,363.9 954.6,362.1 955.4,360.3 956.3,358.5 957.2,356.7 958.1,354.9 959.0,353.1 959.9,351.3 960.8,349.5 961.8,347.8 962.7,346.0 963.7,344.3 964.8,342.6 965.8,340.9 966.9,339.2 968.0,337.5 969.1,335.9 970.3,334.3 971.5,332.7 972.8,331.1 974.1,329.6 975.4,328.1 976.8,326.7 978.2,325.3 979.7,324.0 981.3,322.7 982.8,321.5 984.5,320.3 986.2,319.2 987.9,318.2 989.6,317.3 991.5,316.4 993.3,315.6 995.2,314.9 997.1,314.3 999.0,313.8 1001.0,313.4 1002.9,313.0 1004.9,312.8 1006.9,312.6 1008.9,312.5 1010.9,312.5 1012.9,312.7 1014.9,313.0 1016.8,313.4 1018.8,313.9 1020.6,314.6 1022.5,315.4 1024.2,316.3 1025.9,317.5 1027.5,318.7 1029.0,320.0 1030.4,321.4 1031.7,322.9 1033.0,324.4 1034.2,326.0 1035.3,327.7 1036.4,329.3 1037.5,331.0 1038.5,332.8 1039.4,334.5 1040.4,336.3 1041.3,338.1 1042.2,339.9 1043.0,341.7 1043.9,343.5 1044.7,345.3 1045.6,347.1 1046.4,348.9 1047.2,350.7 1048.0,352.6 1048.8,354.4 1049.6,356.2 1050.4,358.1 1051.2,359.9 1052.0,361.8 1052.7,363.6 1053.5,365.5 1054.2,367.3 1055.0,369.2 1055.7,371.0 1056.5,372.9 1057.2,374.7 1057.9,376.6 1058.6,378.5 1059.4,380.3 1060.1,382.2 1060.8,384.1 1061.4,386.0 1062.1,387.8 1062.8,389.7 1063.5,391.6 1064.2,393.5 1064.8,395.4 1065.5,397.2 1066.1,399.1 1066.8,401.0 1067.4,402.9 1068.1,404.8 1068.7,406.7 1069.3,408.6 1069.9,410.5 1070.6,412.4 1071.2,414.3 1071.8,416.2 1072.4,418.1 1073.0,420.0 1073.6,421.9 1074.2,423.9 1074.8,425.8 1075.3,427.7 1075.9,429.6 1076.5,431.5 1077.1,433.4 1077.6,435.3 1078.2,437.2 1078.8,439.2 1079.3,441.1 1079.9,443.0 1080.5,444.9 1081.0,446.8 1081.6,448.8 1082.1,450.7 1082.7,452.6 1083.2,454.5 1083.7,456.5 1084.3,458.4 1084.8,460.3 1085.4,462.2 1085.9,464.2 1086.4,466.1 1087.0,468.0 1087.5,469.9 1088.0,471.9 1088.6,473.8 1089.1,475.7 1089.6,477.7 1090.1,479.6 1090.7,481.5 1091.2,483.4 1091.7,485.4 1092.3,487.3 1092.8,489.2 1093.3,491.2 1093.8,493.1 1094.4,495.0 1094.9,496.9 1095.4,498.9 1095.9,500.8 1096.5,502.7 1097.0,504.7 1097.5,506.6 1098.0,508.5 1098.5,510.4 1099.1,512.4 1099.6,514.3 1100.1,516.2 1100.6,518.2 1101.2,520.1 1101.7,522.0 1102.2,524.0 1102.7,525.9 1103.2,527.8 1103.8,529.7 1104.3,531.7 1104.8,533.6 1105.3,535.5 1105.8,537.5 1106.4,539.4 1106.9,541.3 1107.4,543.3 1107.9,545.2 1108.5,547.1 1109.0,549.0 1109.5,551.0 1110.0,552.9 1110.6,554.8 1111.1,556.8 1111.6,558.7 1112.1,560.6 1112.6,562.6 1113.2,564.5 1113.7,566.4 1114.2,568.3 1114.7,570.3 1115.3,572.2 1115.8,574.1 1116.3,576.1 1116.9,578.0 1117.4,579.9 1117.9,581.8 1118.4,583.8 1119.0,585.7 1119.5,587.6 1120.0,589.6 1120.6,591.5 1121.1,593.4 1121.6,595.3 1122.2,597.3 1122.7,599.2 1123.2,601.1 1123.8,603.0 1124.3,605.0 1124.8,606.9 1125.4,608.8 1125.9,610.7 1126.5,612.7 1127.0,614.6 1127.5,616.5 1128.1,618.4 1128.6,620.4 1129.2,622.3 1129.7,624.2 1130.3,626.1 1130.8,628.1 1131.3,630.0 1131.9,631.9 1132.4,633.8 1133.0,635.7 1133.5,637.7 1134.1,639.6 1134.7,641.5 1135.2,643.4 1135.8,645.4 1136.3,647.3 1136.9,649.2 1137.4,651.1 1138.0,653.0 1138.6,654.9 1139.1,656.9 1139.7,658.8 1140.3,660.7 1140.8,662.6 1141.4,664.5 1142.0,666.5 1142.5,668.4 1143.1,670.3 1143.7,672.2 1144.3,674.1 1144.8,676.0 1145.4,677.9 1146.0,679.9 1146.6,681.8 1147.2,683.7 1147.7,685.6 1148.3,687.5 1148.9,689.4 1149.5,691.3 1150.1,693.2 1150.7,695.1 1151.3,697.1 1151.9,699.0 1152.5,700.9 1153.1,702.8 1153.7,704.7 1154.3,706.6 1154.9,708.5 1155.5,710.4 1156.1,712.3 1156.7,714.2 1157.3,716.1 1157.9,718.0 1158.6,719.9 1159.2,721.8 1159.8,723.7 1160.4,725.6 1161.0,727.5 1161.7,729.4 1162.3,731.3 1162.9,733.2 1163.5,735.1 1164.2,737.0 1164.8,738.9 1165.5,740.8 1166.1,742.7 1166.7,744.6 1167.4,746.5 1168.0,748.4 1168.7,750.3 1169.3,752.1 1170.0,754.0 1170.6,755.9 1171.3,757.8 1172.0,759.7 1172.6,761.6 1173.3,763.5 1174.0,765.4 1174.6,767.2 1175.3,769.1 1176.0,771.0 1176.6,772.9 1177.3,774.8 1178.0,776.6 1178.7,778.5 1179.4,780.4 1180.1,782.3 1180.8,784.2 1181.5,786.0 1182.2,787.9 1182.9,789.8 1183.6,791.6 1184.3,793.5 1185.0,795.4 1185.7,797.2 1186.4,799.1 1187.1,801.0 1187.9,802.8 1188.6,804.7 1189.3,806.6 1190.1,808.4 1190.8,810.3 1191.5,812.1 1192.3,814.0 1193.0,815.8 1193.8,817.7 1194.6,819.5 1195.3,821.4 1196.1,823.2 1196.9,825.1 1197.7,826.9 1198.4,828.8 1199.2,830.6 1200.0,832.4 1200.8,834.3 1201.6,836.1 1202.4,837.9 1203.3,839.7 1204.1,841.6 1204.9,843.4 1205.7,845.2 1206.6,847.0 1207.4,848.8 1208.3,850.6 1209.1,852.4 1210.0,854.2 1210.8,856.1 1211.7,857.9 1212.6,859.6 1213.5,861.4 1214.4,863.2 1215.3,865.0 1216.2,866.8 1217.1,868.6 1218.0,870.4 1218.9,872.1 1219.9,873.9 1220.8,875.7 1221.7,877.4 1222.7,879.2 1223.6,880.9 1224.6,882.7 1225.6,884.4 1226.6,886.2 1227.5,887.9 1228.5,889.7 1229.5,891.4 1230.5,893.1 1231.5,894.8 1232.6,896.6 1233.6,898.3 1234.6,900.0 1235.7,901.7 1236.7,903.4 1237.8,905.1 1238.9,906.8 1239.9,908.5 1241.0,910.1 1242.1,911.8 1243.2,913.5 1244.3,915.1 1245.4,916.8 1246.6,918.5 1247.7,920.1 1248.8,921.8 1250.0,923.4 1251.1,925.0 1252.3,926.6 1253.5,928.3 1254.6,929.9 1255.8,931.5 1257.0,933.1 1258.2,934.7 1259.4,936.3 1260.7,937.9 1261.9,939.4 1263.1,941.0 1264.4,942.6 1265.6,944.1 1266.9,945.7 1268.2,947.2 1269.4,948.8 1270.7,950.3 1272.0,951.8 1273.3,953.3 1274.6,954.8 1276.0,956.3 1277.3,957.8 1278.6,959.3 1280.0,960.8 1281.3,962.3 1282.7,963.7 1284.0,965.2 1285.4,966.6 1286.8,968.1 1288.2,969.5 1289.6,970.9 1291.0,972.4 1292.4,973.8 1293.9,975.2 1295.3,976.5 1296.8,977.9 1298.2,979.3 1299.7,980.7 1301.1,982.0 1302.6,983.4 1304.1,984.7 1305.6,986.0 1307.1,987.3 1308.6,988.6 1310.2,989.9 1311.7,991.2 1313.2,992.5 1314.8,993.7 1316.3,995.0 1317.9,996.2 1319.5,997.5 1321.1,998.7 1322.7,999.9 1324.3,1001.1 1325.9,1002.3 1327.5,1003.5 1329.1,1004.6 1330.8,1005.8 1332.4,1006.9 1334.1,1008.0 1335.7,1009.1 1337.4,1010.2 1339.1,1011.3 1340.8,1012.4 1342.5,1013.4 1344.2,1014.5 1345.9,1015.5 1347.6,1016.5 1349.3,1017.5 1351.1,1018.5 1352.8,1019.5 1354.6,1020.5 1356.3,1021.4 1358.1,1022.3 1359.9,1023.2 1361.7,1024.1 1363.5,1025.0 1365.3,1025.9 1367.1,1026.7 1368.9,1027.6 1370.7,1028.4 1372.5,1029.2 1374.4,1030.0 1376.2,1030.8 1378.0,1031.6 1379.9,1032.3 1381.8,1033.1 1383.6,1033.8 1385.5,1034.5 1387.4,1035.2 1389.2,1035.9 1391.1,1036.6 1393.0,1037.2 1394.9,1037.9 1396.8,1038.5 1398.7,1039.2 1400.6,1039.8 1402.5,1040.4 1404.4,1041.0 1406.3,1041.6 1408.2,1042.1 1410.1,1042.7 1412.1,1043.2 1414.0,1043.8 1415.9,1044.3 1417.9,1044.8 1419.8,1045.3 1421.7,1045.8 1423.7,1046.3 1425.6,1046.8 1427.5,1047.2 1429.5,1047.7 1431.4,1048.1 1433.4,1048.6 1435.3,1049.0 1437.3,1049.4 1439.3,1049.8 1441.2,1050.3 1443.2,1050.6 1445.1,1051.0 1447.1,1051.4 1449.1,1051.8 1451.0,1052.2 1453.0,1052.5 1455.0,1052.9 1456.9,1053.2 1458.9,1053.5 1460.9,1053.9 1462.8,1054.2 1464.8,1054.5 1466.8,1054.8 1468.8,1055.1 1470.7,1055.4 1472.7,1055.7 1474.7,1056.0 1476.7,1056.3 1478.7,1056.6 1480.6,1056.8 1482.6,1057.1 1484.6,1057.4 1486.6,1057.6 1488.6,1057.9 1490.6,1058.1 1492.5,1058.4 1494.5,1058.6 1496.5,1058.8 1498.5,1059.0 1500.5,1059.3 1502.5,1059.5 1504.5,1059.7 1506.5,1059.9 1508.4,1060.1 1510.4,1060.3 1512.4,1060.5 1514.4,1060.7 1516.4,1060.9 1518.4,1061.1 1520.4,1061.2 1522.4,1061.4 1524.4,1061.6 1526.4,1061.7 1528.4,1061.9 1530.3,1062.1 1532.3,1062.2 1534.3,1062.4 1536.3,1062.5 1538.3,1062.7 1540.3,1062.8 1542.3,1062.9 1544.3,1063.1 1546.3,1063.2 1548.3,1063.3 1550.3,1063.4 1552.3,1063.6 1554.3,1063.7 1556.3,1063.8 1558.3,1063.9 1560.3,1064.0 1562.3,1064.1 1564.3,1064.2 1566.3,1064.3 1568.3,1064.4 1570.3,1064.5 1572.3,1064.6 1574.2,1064.6 1576.2,1064.7 1578.2,1064.8 1580.2,1064.9 1582.2,1065.0 1584.2,1065.0 1586.2,1065.1 1588.2,1065.2 1590.2,1065.2 1592.2,1065.3 1594.2,1065.3 1596.2,1065.4 1598.2,1065.5 1600.2,1065.5 1602.2,1065.6 1604.2,1065.6 1606.2,1065.7 1608.2,1065.7 1610.2,1065.7 1612.2,1065.8 1614.2,1065.8 1616.2,1065.9 1618.2,1065.9 1620.2,1065.9 1622.2,1066.0 1624.2,1066.0 1626.2,1066.0 1628.2,1066.1 1630.2,1066.1 1632.2,1066.1 1634.2,1066.1 1636.2,1066.2 1638.2,1066.2 1640.2,1066.2 1642.2,1066.2 1644.2,1066.3 1646.2,1066.3 1648.2,1066.3 1650.2,1066.3 1652.2,1066.3 1654.2,1066.4 1656.2,1066.4 1658.2,1066.4 1660.2,1066.4 1662.2,1066.4 1664.2,1066.4 1666.2,1066.4 1668.2,1066.5 1670.2,1066.5 1672.2,1066.5 1674.2,1066.5 1676.2,1066.5 1678.2,1066.5 1680.2,1066.5 1682.2,1066.6 1684.2,1066.6 1686.2,1066.6 1688.2,1066.6 1690.2,1066.6 1692.2,1066.6 1694.2,1066.6 1696.2,1066.6 1698.2,1066.6 1700.2,1066.7 1702.2,1066.7 1704.2,1066.7 1706.2,1066.7 1708.2,1066.7 1710.2,1066.7 1712.2,1066.7 1714.2,1066.7 1716.2,1066.7 1718.2,1066.8 1720.2,1066.8 1722.2,1066.8 1724.2,1066.8 1726.2,1066.8 1728.2,1066.8 1730.2,1066.8 1732.2,1066.8 1734.2,1066.8 1736.2,1066.8 1738.2,1066.8 1740.2,1066.8 1742.2,1066.9 1744.2,1066.9 1746.2,1066.9 1748.2,1066.9 1750.2,1066.9 1752.2,1066.9 1754.2,1066.9 1756.2,1066.9 1758.2,1066.9 1760.2,1066.9 1762.2,1066.9 1764.2,1066.9 1766.2,1066.9 1768.2,1066.9 1770.1,1066.9 1772.1,1067.0 1774.1,1067.0 1776.1,1067.0 1778.1,1067.0 1780.1,1067.0 1782.1,1067.0 1784.1,1067.0 1786.1,1067.0 1788.1,1067.0 1790.1,1067.0 1792.1,1067.0 1794.1,1067.0 1796.1,1067.0 1798.1,1067.0 1800.1,1067.0 1802.1,1067.0 1804.1,1067.0 1806.1,1067.0 1808.1,1067.0 1810.1,1067.0 1812.1,1067.0 1814.1,1067.0 1816.1,1067.0 1818.1,1067.0 1820.1,1067.0 1822.1,1067.0 1824.1,1067.0 1826.1,1067.0 1828.1,1067.1 1830.1,1067.1 1832.1,1067.1 1834.1,1067.1 1836.1,1067.1 1838.1,1067.1 1840.1,1067.1 1842.1,1067.1 1844.1,1067.1 1846.1,1067.1 1848.1,1067.1 1850.1,1067.1 1852.1,1067.1 1854.1,1067.1 1856.1,1067.1 1858.1,1067.1 1860.1,1067.1 1862.1,1067.1 1864.1,1067.1 1866.1,1067.1 1868.1,1067.1 1870.1,1067.1 1872.1,1067.1 1874.1,1067.1 1876.1,1067.1 1878.1,1067.1 1880.1,1067.1 1882.1,1067.1 1884.1,1067.1 1886.1,1067.1 1888.1,1067.1 1890.1,1067.1 1892.1,1067.1 1894.1,1067.1 1896.1,1067.1 1898.1,1067.1 1900.1,1067.1 1902.1,1067.1 1904.1,1067.1 1906.1,1067.1 1908.1,1067.1 1910.1,1067.1 1912.1,1067.1 1914.1,1067.1 1916.1,1067.1 1918.1,1067.1 1920.1,1067.1 1922.1,1067.1 1924.1,1067.1 1926.1,1067.1 1928.1,1067.1 1930.1,1067.1 1932.1,1067.1 1934.1,1067.1 1936.1,1067.1 1938.1,1067.1 1940.1,1067.1 1942.1,1067.1 1944.1,1067.1 1946.1,1067.0 1948.1,1067.0 1950.1,1067.0 1952.1,1067.0 1954.1,1067.0 1956.1,1067.0 1958.1,1067.0 1960.1,1067.0 1962.1,1067.0 1964.1,1067.0 1966.1,1067.0 1968.1,1067.0 1970.1,1067.0 1972.1,1067.0 1974.1,1067.0 1976.1,1067.0 1978.1,1067.0 1980.1,1067.0 1982.1,1067.0 1984.1,1067.0 1986.1,1067.0 1988.1,1067.0 1990.1,1067.0 1992.1,1067.0 1994.1,1067.0 1996.1,1067.0 1998.1,1067.0 2000.1,1067.0 2002.1,1067.0 2004.1,1067.0 2006.1,1067.0 2008.1,1067.0 2010.1,1067.0 2012.1,1067.0 2014.1,1067.0 2016.1,1067.0 2018.1,1067.0 2020.1,1067.0 2022.1,1067.0 2024.1,1067.0 2026.0,1067.0 2028.0,1067.0 2030.0,1067.0 2032.0,1067.0 2034.0,1067.0 2036.0,1067.0 2038.0,1067.0 2040.0,1067.0 2042.0,1067.0 2044.0,1067.0 2046.0,1067.0 2048.0,1067.0 2050.0,1067.0 2052.0,1067.0 2054.0,1067.0 2056.0,1067.0 2058.0,1067.0 2060.0,1067.0 2062.0,1067.0 2064.0,1067.0 2066.0,1067.0 2068.0,1067.0 2070.0,1067.0 2072.0,1067.0 2074.0,1067.0 2076.0,1067.0 2078.0,1067.0 2080.0,1067.0 2082.0,1067.0 2084.0,1067.0 2086.0,1067.0 2088.0,1067.0 2090.0,1067.0 2092.0,1067.0 2094.0,1067.0 2096.0,1067.0 2098.0,1067.0 2100.0,1067.0" fill="none" stroke="#e63216" stroke-width="8" stroke-linejoin="round" stroke-linecap="butt"/>
<path d="M375.2,993.6 377.1,993.4 379.1,993.2 381.1,993.0 383.1,992.9 385.1,992.8 387.1,992.6 389.1,992.5 391.1,992.4 393.1,992.3 395.1,992.2 397.1,992.1 399.1,992.0 401.1,991.9 403.1,991.9 405.1,991.8 407.1,991.7 409.1,991.7 411.1,991.6 413.1,991.6 415.1,991.5 417.1,991.5 419.1,991.4 421.1,991.4 423.1,991.3 425.1,991.3 427.1,991.2 429.1,991.2 431.1,991.2 433.1,991.1 435.1,991.1 437.1,991.0 439.1,991.0 441.1,990.9 443.0,990.9 445.0,990.8 447.0,990.7 449.0,990.7 451.0,990.6 453.0,990.5 455.0,990.4 457.0,990.4 459.0,990.3 461.0,990.2 463.0,990.1 465.0,989.9 467.0,989.8 469.0,989.7 471.0,989.6 473.0,989.4 475.0,989.3 477.0,989.1 479.0,988.9 481.0,988.7 482.9,988.5 484.9,988.3 486.9,988.1 488.9,987.9 490.9,987.6 492.9,987.4 494.9,987.1 496.8,986.8 498.8,986.5 500.8,986.2 502.7,985.8 504.7,985.5 506.7,985.1 508.6,984.7 510.6,984.3 512.6,983.9 514.5,983.5 516.5,983.0 518.4,982.5 520.3,982.1 522.3,981.5 524.2,981.0 526.1,980.5 528.0,979.9 530.0,979.4 531.9,978.8 533.8,978.2 535.7,977.6 537.6,977.0 539.5,976.4 541.4,975.7 543.3,975.1 545.2,974.4 547.0,973.7 548.9,973.0 550.8,972.3 552.7,971.6 554.5,970.9 556.4,970.2 558.2,969.5 560.1,968.7 562.0,968.0 563.8,967.2 565.7,966.5 567.5,965.7 569.3,964.9 571.2,964.1 573.0,963.4 574.9,962.6 576.7,961.8 578.5,961.0 580.4,960.2 582.2,959.4 584.0,958.6 585.8,957.7 587.7,956.9 589.5,956.1 591.3,955.3 593.1,954.5 595.0,953.6 596.8,952.8 598.6,952.0 600.4,951.2 602.2,950.3 604.1,949.5 605.9,948.7 607.7,947.8 609.5,947.0 611.3,946.1 613.1,945.3 614.9,944.5 616.7,943.6 618.5,942.7 620.3,941.9 622.1,941.0 623.9,940.1 625.7,939.2 627.5,938.3 629.3,937.4 631.1,936.5 632.9,935.6 634.6,934.7 636.4,933.8 638.2,932.9 639.9,931.9 641.7,931.0 643.5,930.0 645.2,929.0 646.9,928.0 648.7,927.1 650.4,926.1 652.1,925.0 653.8,924.0 655.6,923.0 657.3,921.9 659.0,920.9 660.6,919.8 662.3,918.7 664.0,917.6 665.7,916.5 667.3,915.4 669.0,914.3 670.6,913.1 672.2,912.0 673.8,910.8 675.5,909.6 677.1,908.4 678.7,907.2 680.2,906.0 681.8,904.8 683.4,903.5 684.9,902.3 686.5,901.0 688.0,899.7 689.6,898.4 691.1,897.1 692.6,895.8 694.1,894.5 695.6,893.2 697.1,891.9 698.6,890.5 700.0,889.2 701.5,887.8 702.9,886.4 704.4,885.0 705.8,883.6 707.2,882.2 708.7,880.8 710.1,879.4 711.5,878.0 712.9,876.6 714.2,875.1 715.6,873.7 717.0,872.2 718.3,870.7 719.7,869.3 721.0,867.8 722.4,866.3 723.7,864.8 725.0,863.3 726.3,861.8 727.6,860.3 728.9,858.7 730.2,857.2 731.5,855.7 732.8,854.1 734.0,852.6 735.3,851.0 736.5,849.5 737.8,847.9 739.0,846.3 740.2,844.8 741.4,843.2 742.7,841.6 743.9,840.0 745.1,838.4 746.3,836.8 747.5,835.2 748.6,833.6 749.8,832.0 751.0,830.3 752.1,828.7 753.3,827.1 754.4,825.4 755.6,823.8 756.7,822.2 757.9,820.5 759.0,818.9 760.1,817.2 761.2,815.5 762.3,813.9 763.4,812.2 764.5,810.5 765.6,808.9 766.7,807.2 767.8,805.5 768.9,803.8 769.9,802.1 771.0,800.5 772.1,798.8 773.1,797.1 774.2,795.4 775.2,793.7 776.3,792.0 777.3,790.3 778.4,788.6 779.4,786.8 780.4,785.1 781.5,783.4 782.5,781.7 783.5,780.0 784.5,778.3 785.5,776.5 786.5,774.8 787.5,773.1 788.5,771.4 789.5,769.6 790.5,767.9 791.5,766.2 792.5,764.4 793.5,762.7 794.5,760.9 795.5,759.2 796.5,757.5 797.4,755.7 798.4,754.0 799.4,752.2 800.3,750.5 801.3,748.7 802.2,747.0 803.2,745.2 804.2,743.4 805.1,741.7 806.1,739.9 807.0,738.2 807.9,736.4 808.9,734.6 809.8,732.9 810.8,731.1 811.7,729.3 812.6,727.6 813.5,725.8 814.5,724.0 815.4,722.2 816.3,720.5 817.2,718.7 818.1,716.9 819.0,715.1 819.9,713.4 820.8,711.6 821.8,709.8 822.7,708.0 823.6,706.2 824.4,704.4 825.3,702.6 826.2,700.9 827.1,699.1 828.0,697.3 828.9,695.5 829.8,693.7 830.7,691.9 831.5,690.1 832.4,688.3 833.3,686.5 834.2,684.7 835.0,682.9 835.9,681.1 836.8,679.3 837.6,677.5 838.5,675.7 839.4,673.9 840.2,672.1 841.1,670.3 841.9,668.5 842.8,666.7 843.6,664.9 844.5,663.1 845.3,661.2 846.2,659.4 847.0,657.6 847.9,655.8 848.7,654.0 849.5,652.2 850.4,650.4 851.2,648.6 852.1,646.7 852.9,644.9 853.7,643.1 854.6,641.3 855.4,639.5 856.2,637.7 857.0,635.8 857.9,634.0 858.7,632.2 859.5,630.4 860.3,628.5 861.2,626.7 862.0,624.9 862.8,623.1 863.6,621.3 864.4,619.4 865.2,617.6 866.1,615.8 866.9,614.0 867.7,612.1 868.5,610.3 869.3,608.5 870.1,606.6 870.9,604.8 871.7,603.0 872.5,601.2 873.3,599.3 874.1,597.5 874.9,595.7 875.7,593.8 876.5,592.0 877.3,590.2 878.1,588.3 878.9,586.5 879.7,584.7 880.5,582.8 881.3,581.0 882.1,579.2 882.9,577.3 883.7,575.5 884.5,573.7 885.3,571.8 886.1,570.0 886.9,568.2 887.7,566.3 888.5,564.5 889.2,562.7 890.0,560.8 890.8,559.0 891.6,557.1 892.4,555.3 893.2,553.5 894.0,551.6 894.7,549.8 895.5,547.9 896.3,546.1 897.1,544.3 897.9,542.4 898.7,540.6 899.4,538.8 900.2,536.9 901.0,535.1 901.8,533.2 902.6,531.4 903.3,529.6 904.1,527.7 904.9,525.9 905.7,524.0 906.5,522.2 907.2,520.3 908.0,518.5 908.8,516.7 909.6,514.8 910.4,513.0 911.1,511.1 911.9,509.3 912.7,507.5 913.5,505.6 914.2,503.8 915.0,501.9 915.8,500.1 916.6,498.3 917.4,496.4 918.1,494.6 918.9,492.7 919.7,490.9 920.5,489.0 921.2,487.2 922.0,485.4 922.8,483.5 923.6,481.7 924.4,479.8 925.1,478.0 925.9,476.2 926.7,474.3 927.5,472.5 928.3,470.6 929.0,468.8 929.8,467.0 930.6,465.1 931.4,463.3 932.2,461.4 932.9,459.6 933.7,457.8 934.5,455.9 935.3,454.1 936.1,452.2 936.9,450.4 937.7,448.6 938.4,446.7 939.2,444.9 940.0,443.1 940.8,441.2 941.6,439.4 942.4,437.6 943.2,435.7 944.0,433.9 944.7,432.0 945.5,430.2 946.3,428.4 947.1,426.5 947.9,424.7 948.7,422.9 949.5,421.0 950.3,419.2 951.1,417.4 951.9,415.5 952.7,413.7 953.5,411.9 954.3,410.0 955.1,408.2 955.9,406.4 956.7,404.5 957.5,402.7 958.3,400.9 959.1,399.1 959.9,397.2 960.7,395.4 961.5,393.6 962.4,391.7 963.2,389.9 964.0,388.1 964.8,386.3 965.6,384.4 966.4,382.6 967.2,380.8 968.1,379.0 968.9,377.1 969.7,375.3 970.5,373.5 971.3,371.7 972.2,369.9 973.0,368.0 973.8,366.2 974.6,364.4 975.5,362.6 976.3,360.8 977.1,358.9 978.0,357.1 978.8,355.3 979.6,353.5 980.5,351.7 981.3,349.9 982.2,348.1 983.0,346.2 983.8,344.4 984.7,342.6 985.5,340.8 986.4,339.0 987.2,337.2 988.1,335.4 989.0,333.6 989.9,331.8 990.7,330.0 991.6,328.2 992.6,326.4 993.5,324.7 994.4,322.9 995.4,321.1 996.3,319.4 997.3,317.7 998.3,315.9 999.3,314.2 1000.4,312.5 1001.5,310.8 1002.5,309.1 1003.7,307.5 1004.8,305.8 1005.9,304.2 1007.1,302.6 1008.4,301.0 1009.6,299.5 1010.9,297.9 1012.2,296.4 1013.5,294.9 1014.9,293.5 1016.3,292.1 1017.8,290.7 1019.2,289.3 1020.7,288.0 1022.3,286.7 1023.9,285.5 1025.5,284.3 1027.1,283.2 1028.8,282.1 1030.5,281.1 1032.2,280.1 1034.0,279.2 1035.8,278.3 1037.6,277.5 1039.5,276.7 1041.3,276.0 1043.2,275.3 1045.1,274.7 1047.1,274.2 1049.0,273.7 1051.0,273.3 1052.9,272.9 1054.9,272.6 1056.9,272.3 1058.9,272.2 1060.9,272.1 1062.9,272.0 1064.9,272.1 1066.9,272.2 1068.8,272.4 1070.8,272.7 1072.8,273.1 1074.7,273.6 1076.6,274.2 1078.5,274.9 1080.4,275.6 1082.2,276.5 1083.9,277.5 1085.6,278.5 1087.3,279.6 1088.9,280.8 1090.4,282.1 1091.9,283.4 1093.4,284.7 1094.9,286.1 1096.3,287.5 1097.6,289.0 1098.9,290.5 1100.2,292.0 1101.5,293.6 1102.8,295.1 1104.0,296.7 1105.2,298.3 1106.4,299.9 1107.6,301.5 1108.8,303.1 1109.9,304.7 1111.1,306.4 1112.2,308.0 1113.3,309.7 1114.4,311.3 1115.5,313.0 1116.6,314.7 1117.7,316.4 1118.7,318.1 1119.8,319.8 1120.8,321.5 1121.9,323.2 1122.9,324.9 1123.9,326.6 1124.9,328.4 1125.9,330.1 1126.9,331.8 1127.9,333.6 1128.8,335.3 1129.8,337.1 1130.7,338.8 1131.7,340.6 1132.6,342.4 1133.5,344.1 1134.5,345.9 1135.4,347.7 1136.3,349.5 1137.2,351.3 1138.1,353.1 1138.9,354.8 1139.8,356.6 1140.7,358.4 1141.6,360.2 1142.4,362.1 1143.3,363.9 1144.1,365.7 1145.0,367.5 1145.8,369.3 1146.6,371.1 1147.5,372.9 1148.3,374.8 1149.1,376.6 1149.9,378.4 1150.7,380.2 1151.5,382.1 1152.4,383.9 1153.2,385.7 1154.0,387.5 1154.7,389.4 1155.5,391.2 1156.3,393.1 1157.1,394.9 1157.9,396.7 1158.7,398.6 1159.4,400.4 1160.2,402.3 1161.0,404.1 1161.7,406.0 1162.5,407.8 1163.3,409.7 1164.0,411.5 1164.8,413.4 1165.5,415.2 1166.3,417.1 1167.0,418.9 1167.7,420.8 1168.5,422.6 1169.2,424.5 1169.9,426.4 1170.7,428.2 1171.4,430.1 1172.1,431.9 1172.8,433.8 1173.6,435.7 1174.3,437.5 1175.0,439.4 1175.7,441.3 1176.4,443.1 1177.1,445.0 1177.8,446.9 1178.5,448.8 1179.2,450.6 1179.9,452.5 1180.6,454.4 1181.3,456.3 1182.0,458.1 1182.7,460.0 1183.4,461.9 1184.0,463.8 1184.7,465.6 1185.4,467.5 1186.1,469.4 1186.8,471.3 1187.4,473.2 1188.1,475.0 1188.8,476.9 1189.4,478.8 1190.1,480.7 1190.8,482.6 1191.4,484.5 1192.1,486.4 1192.7,488.2 1193.4,490.1 1194.1,492.0 1194.7,493.9 1195.4,495.8 1196.0,497.7 1196.7,499.6 1197.3,501.5 1198.0,503.4 1198.6,505.2 1199.3,507.1 1199.9,509.0 1200.6,510.9 1201.2,512.8 1201.8,514.7 1202.5,516.6 1203.1,518.5 1203.8,520.4 1204.4,522.3 1205.0,524.2 1205.7,526.1 1206.3,528.0 1206.9,529.9 1207.6,531.8 1208.2,533.7 1208.8,535.6 1209.5,537.4 1210.1,539.3 1210.7,541.2 1211.4,543.1 1212.0,545.0 1212.6,546.9 1213.2,548.8 1213.9,550.7 1214.5,552.6 1215.1,554.5 1215.8,556.4 1216.4,558.3 1217.0,560.2 1217.6,562.1 1218.3,564.0 1218.9,565.9 1219.5,567.8 1220.1,569.7 1220.8,571.6 1221.4,573.5 1222.0,575.4 1222.7,577.3 1223.3,579.2 1223.9,581.1 1224.5,583.0 1225.2,584.9 1225.8,586.8 1226.4,588.7 1227.1,590.6 1227.7,592.5 1228.3,594.4 1228.9,596.3 1229.6,598.2 1230.2,600.1 1230.8,602.0 1231.5,603.9 1232.1,605.7 1232.7,607.6 1233.4,609.5 1234.0,611.4 1234.7,613.3 1235.3,615.2 1235.9,617.1 1236.6,619.0 1237.2,620.9 1237.9,622.8 1238.5,624.7 1239.2,626.6 1239.8,628.5 1240.4,630.4 1241.1,632.3 1241.7,634.1 1242.4,636.0 1243.0,637.9 1243.7,639.8 1244.4,641.7 1245.0,643.6 1245.7,645.5 1246.3,647.4 1247.0,649.2 1247.7,651.1 1248.3,653.0 1249.0,654.9 1249.7,656.8 1250.3,658.7 1251.0,660.6 1251.7,662.4 1252.3,664.3 1253.0,666.2 1253.7,668.1 1254.4,670.0 1255.1,671.8 1255.7,673.7 1256.4,675.6 1257.1,677.5 1257.8,679.3 1258.5,681.2 1259.2,683.1 1259.9,685.0 1260.6,686.8 1261.3,688.7 1262.0,690.6 1262.7,692.4 1263.4,694.3 1264.1,696.2 1264.9,698.0 1265.6,699.9 1266.3,701.8 1267.0,703.6 1267.7,705.5 1268.4,707.4 1269.2,709.2 1269.9,711.1 1270.6,713.0 1271.4,714.8 1272.1,716.7 1272.8,718.5 1273.6,720.4 1274.3,722.2 1275.1,724.1 1275.8,726.0 1276.6,727.8 1277.3,729.7 1278.1,731.5 1278.8,733.4 1279.6,735.2 1280.3,737.1 1281.1,738.9 1281.9,740.8 1282.6,742.6 1283.4,744.5 1284.2,746.3 1284.9,748.1 1285.7,750.0 1286.5,751.8 1287.3,753.7 1288.0,755.5 1288.8,757.3 1289.6,759.2 1290.4,761.0 1291.2,762.9 1292.0,764.7 1292.8,766.5 1293.6,768.4 1294.4,770.2 1295.2,772.0 1296.0,773.9 1296.8,775.7 1297.6,777.5 1298.4,779.3 1299.2,781.2 1300.0,783.0 1300.8,784.8 1301.6,786.6 1302.5,788.5 1303.3,790.3 1304.1,792.1 1304.9,793.9 1305.8,795.8 1306.6,797.6 1307.4,799.4 1308.3,801.2 1309.1,803.0 1309.9,804.8 1310.8,806.6 1311.6,808.5 1312.5,810.3 1313.3,812.1 1314.2,813.9 1315.0,815.7 1315.9,817.5 1316.7,819.3 1317.6,821.1 1318.4,822.9 1319.3,824.7 1320.2,826.5 1321.0,828.3 1321.9,830.1 1322.8,831.9 1323.7,833.7 1324.5,835.5 1325.4,837.3 1326.3,839.1 1327.2,840.9 1328.1,842.7 1329.0,844.5 1329.9,846.3 1330.8,848.0 1331.7,849.8 1332.6,851.6 1333.5,853.4 1334.4,855.2 1335.3,856.9 1336.3,858.7 1337.2,860.5 1338.1,862.2 1339.1,864.0 1340.0,865.8 1341.0,867.5 1341.9,869.3 1342.9,871.0 1343.9,872.8 1344.8,874.5 1345.8,876.3 1346.8,878.0 1347.8,879.7 1348.8,881.5 1349.8,883.2 1350.8,884.9 1351.8,886.7 1352.8,888.4 1353.8,890.1 1354.9,891.8 1355.9,893.5 1357.0,895.2 1358.0,896.9 1359.1,898.6 1360.1,900.3 1361.2,902.0 1362.3,903.7 1363.4,905.3 1364.5,907.0 1365.6,908.7 1366.7,910.3 1367.8,912.0 1369.0,913.6 1370.1,915.3 1371.3,916.9 1372.4,918.5 1373.6,920.2 1374.8,921.8 1375.9,923.4 1377.1,925.0 1378.3,926.6 1379.5,928.2 1380.8,929.8 1382.0,931.3 1383.2,932.9 1384.5,934.5 1385.7,936.0 1387.0,937.6 1388.3,939.1 1389.6,940.6 1390.8,942.2 1392.2,943.7 1393.5,945.2 1394.8,946.7 1396.1,948.2 1397.5,949.6 1398.8,951.1 1400.2,952.6 1401.6,954.0 1402.9,955.5 1404.3,956.9 1405.7,958.3 1407.2,959.7 1408.6,961.1 1410.0,962.5 1411.5,963.9 1412.9,965.3 1414.4,966.7 1415.8,968.0 1417.3,969.3 1418.8,970.7 1420.3,972.0 1421.8,973.3 1423.3,974.6 1424.9,975.9 1426.4,977.2 1428.0,978.5 1429.5,979.7 1431.1,981.0 1432.6,982.2 1434.2,983.4 1435.8,984.6 1437.4,985.8 1439.0,987.0 1440.6,988.2 1442.3,989.4 1443.9,990.5 1445.5,991.7 1447.2,992.8 1448.8,993.9 1450.5,995.0 1452.2,996.1 1453.8,997.2 1455.5,998.3 1457.2,999.3 1458.9,1000.4 1460.7,1001.4 1462.4,1002.4 1464.1,1003.4 1465.8,1004.4 1467.6,1005.4 1469.3,1006.3 1471.1,1007.3 1472.9,1008.2 1474.6,1009.2 1476.4,1010.1 1478.2,1011.0 1480.0,1011.8 1481.8,1012.7 1483.6,1013.6 1485.4,1014.4 1487.2,1015.2 1489.0,1016.1 1490.9,1016.9 1492.7,1017.7 1494.5,1018.4 1496.4,1019.2 1498.2,1020.0 1500.1,1020.7 1501.9,1021.5 1503.8,1022.2 1505.7,1022.9 1507.5,1023.6 1509.4,1024.3 1511.3,1025.0 1513.2,1025.7 1515.0,1026.4 1516.9,1027.1 1518.8,1027.7 1520.7,1028.4 1522.6,1029.0 1524.5,1029.7 1526.4,1030.3 1528.3,1030.9 1530.2,1031.5 1532.1,1032.2 1534.0,1032.8 1535.9,1033.4 1537.8,1034.0 1539.7,1034.6 1541.6,1035.1 1543.5,1035.7 1545.4,1036.3 1547.4,1036.9 1549.3,1037.5 1551.2,1038.0 1553.1,1038.6 1555.0,1039.2 1556.9,1039.8 1558.9,1040.3 1560.8,1040.9 1562.7,1041.4 1564.6,1042.0 1566.5,1042.6 1568.4,1043.1 1570.4,1043.7 1572.3,1044.2 1574.2,1044.8 1576.1,1045.3 1578.1,1045.8 1580.0,1046.4 1581.9,1046.9 1583.8,1047.4 1585.8,1048.0 1587.7,1048.5 1589.6,1049.0 1591.6,1049.5 1593.5,1050.0 1595.4,1050.5 1597.4,1051.0 1599.3,1051.5 1601.3,1051.9 1603.2,1052.4 1605.1,1052.9 1607.1,1053.3 1609.0,1053.8 1611.0,1054.2 1612.9,1054.6 1614.9,1055.0 1616.9,1055.4 1618.8,1055.8 1620.8,1056.2 1622.7,1056.6 1624.7,1057.0 1626.7,1057.3 1628.6,1057.7 1630.6,1058.0 1632.6,1058.3 1634.6,1058.6 1636.5,1058.9 1638.5,1059.2 1640.5,1059.5 1642.5,1059.8 1644.5,1060.0 1646.4,1060.2 1648.4,1060.5 1650.4,1060.7 1652.4,1060.9 1654.4,1061.1 1656.4,1061.2 1658.4,1061.4 1660.4,1061.6 1662.4,1061.7 1664.4,1061.9 1666.4,1062.0 1668.3,1062.1 1670.3,1062.2 1672.3,1062.3 1674.3,1062.4 1676.3,1062.5 1678.3,1062.6 1680.3,1062.7 1682.3,1062.8 1684.3,1062.9 1686.3,1062.9 1688.3,1063.0 1690.3,1063.1 1692.3,1063.1 1694.3,1063.2 1696.3,1063.2 1698.3,1063.3 1700.3,1063.4 1702.3,1063.4 1704.3,1063.5 1706.3,1063.5 1708.3,1063.6 1710.3,1063.6 1712.3,1063.7 1714.3,1063.7 1716.3,1063.8 1718.3,1063.8 1720.3,1063.9 1722.3,1063.9 1724.3,1063.9 1726.3,1064.0 1728.3,1064.0 1730.3,1064.1 1732.3,1064.1 1734.3,1064.2 1736.3,1064.2 1738.3,1064.2 1740.3,1064.3 1742.3,1064.3 1744.3,1064.4 1746.3,1064.4 1748.3,1064.4 1750.3,1064.5 1752.3,1064.5 1754.3,1064.6 1756.3,1064.6 1758.3,1064.6 1760.3,1064.7 1762.3,1064.7 1764.3,1064.7 1766.2,1064.8 1768.2,1064.8 1770.2,1064.8 1772.2,1064.9 1774.2,1064.9 1776.2,1064.9 1778.2,1064.9 1780.2,1065.0 1782.2,1065.0 1784.2,1065.0 1786.2,1065.1 1788.2,1065.1 1790.2,1065.1 1792.2,1065.1 1794.2,1065.2 1796.2,1065.2 1798.2,1065.2 1800.2,1065.2 1802.2,1065.3 1804.2,1065.3 1806.2,1065.3 1808.2,1065.3 1810.2,1065.3 1812.2,1065.4 1814.2,1065.4 1816.2,1065.4 1818.2,1065.4 1820.2,1065.4 1822.2,1065.5 1824.2,1065.5 1826.2,1065.5 1828.2,1065.5 1830.2,1065.5 1832.2,1065.6 1834.2,1065.6 1836.2,1065.6 1838.2,1065.6 1840.2,1065.6 1842.2,1065.6 1844.2,1065.6 1846.2,1065.7 1848.2,1065.7 1850.2,1065.7 1852.2,1065.7 1854.2,1065.7 1856.2,1065.7 1858.2,1065.7 1860.2,1065.8 1862.2,1065.8 1864.2,1065.8 1866.2,1065.8 1868.2,1065.8 1870.2,1065.8 1872.2,1065.8 1874.2,1065.8 1876.2,1065.8 1878.2,1065.8 1880.2,1065.9 1882.2,1065.9 1884.2,1065.9 1886.2,1065.9 1888.2,1065.9 1890.2,1065.9 1892.2,1065.9 1894.2,1065.9 1896.2,1065.9 1898.2,1065.9 1900.2,1065.9 1902.2,1065.9 1904.2,1066.0 1906.2,1066.0 1908.2,1066.0 1910.2,1066.0 1912.2,1066.0 1914.2,1066.0 1916.2,1066.0 1918.2,1066.0 1920.2,1066.0 1922.2,1066.0 1924.1,1066.0 1926.1,1066.0 1928.1,1066.0 1930.1,1066.0 1932.1,1066.0 1934.1,1066.0 1936.1,1066.0 1938.1,1066.0 1940.1,1066.0 1942.1,1066.0 1944.1,1066.0 1946.1,1066.1 1948.1,1066.1 1950.1,1066.1 1952.1,1066.1 1954.1,1066.1 1956.1,1066.1 1958.1,1066.1 1960.1,1066.1 1962.1,1066.1 1964.1,1066.1 1966.1,1066.1 1968.1,1066.1 1970.1,1066.1 1972.1,1066.1 1974.1,1066.1 1976.1,1066.1 1978.1,1066.1 1980.1,1066.1 1982.1,1066.1 1984.1,1066.1 1986.1,1066.1 1988.1,1066.1 1990.1,1066.1 1992.1,1066.1 1994.1,1066.1 1996.1,1066.1 1998.1,1066.1 2000.1,1066.1 2002.1,1066.1 2004.1,1066.2 2006.1,1066.2 2008.1,1066.2 2010.1,1066.2 2012.1,1066.2 2014.1,1066.2 2016.1,1066.2 2018.1,1066.2 2020.1,1066.2 2022.1,1066.2 2024.1,1066.2 2026.1,1066.2 2028.1,1066.2 2030.1,1066.2 2032.1,1066.2 2034.1,1066.2 2036.1,1066.2 2038.1,1066.2 2040.1,1066.2 2042.1,1066.2 2044.1,1066.3 2046.1,1066.3 2048.1,1066.3 2050.1,1066.3 2052.1,1066.3 2054.1,1066.3 2056.1,1066.3 2058.1,1066.3 2060.1,1066.3 2062.1,1066.3 2064.1,1066.3 2066.1,1066.3 2068.1,1066.3 2070.1,1066.4 2072.1,1066.4 2074.1,1066.4 2076.1,1066.4 2078.1,1066.4 2080.1,1066.4 2082.1,1066.4 2084.1,1066.4 2086.1,1066.4 2088.1,1066.5 2090.0,1066.5 2092.0,1066.5 2094.0,1066.5 2096.0,1066.5 2098.0,1066.5 2100.0,1066.5" fill="none" stroke="#4466b0" stroke-width="8" stroke-linejoin="round" stroke-linecap="butt"/>
<path d="M375.0,1000.0 377.0,999.8 379.0,999.7 381.0,999.6 383.0,999.5 385.0,999.3 387.0,999.2 389.0,999.1 390.9,999.0 392.9,998.9 394.9,998.8 396.9,998.7 398.9,998.6 400.9,998.5 402.9,998.4 404.9,998.4 406.9,998.3 408.9,998.2 410.9,998.1 412.9,998.0 414.9,997.9 416.9,997.8 418.9,997.7 420.9,997.6 422.9,997.5 424.9,997.4 426.9,997.3 428.9,997.2 430.9,997.1 432.9,997.0 434.9,996.9 436.9,996.8 438.9,996.7 440.9,996.6 442.9,996.4 444.9,996.3 446.9,996.2 448.9,996.0 450.8,995.9 452.8,995.7 454.8,995.6 456.8,995.4 458.8,995.3 460.8,995.1 462.8,994.9 464.8,994.7 466.8,994.5 468.8,994.3 470.8,994.1 472.7,993.9 474.7,993.6 476.7,993.4 478.7,993.2 480.7,992.9 482.7,992.6 484.7,992.4 486.6,992.1 488.6,991.8 490.6,991.5 492.6,991.2 494.5,990.8 496.5,990.5 498.5,990.2 500.4,989.8 502.4,989.4 504.4,989.1 506.3,988.7 508.3,988.3 510.2,987.8 512.2,987.4 514.1,987.0 516.1,986.5 518.0,986.0 520.0,985.6 521.9,985.1 523.8,984.6 525.8,984.0 527.7,983.5 529.6,982.9 531.5,982.4 533.4,981.8 535.4,981.2 537.3,980.5 539.2,979.9 541.0,979.3 542.9,978.6 544.8,977.9 546.7,977.2 548.5,976.5 550.4,975.8 552.3,975.0 554.1,974.3 556.0,973.5 557.8,972.7 559.6,971.9 561.5,971.1 563.3,970.3 565.1,969.5 566.9,968.6 568.7,967.8 570.5,966.9 572.3,966.0 574.1,965.1 575.9,964.3 577.7,963.4 579.5,962.5 581.3,961.5 583.0,960.6 584.8,959.7 586.6,958.8 588.3,957.8 590.1,956.9 591.9,955.9 593.6,955.0 595.4,954.0 597.1,953.0 598.9,952.1 600.6,951.1 602.4,950.1 604.1,949.1 605.8,948.1 607.6,947.2 609.3,946.2 611.1,945.2 612.8,944.2 614.5,943.2 616.3,942.2 618.0,941.2 619.7,940.2 621.5,939.2 623.2,938.2 624.9,937.2 626.7,936.2 628.4,935.2 630.1,934.2 631.9,933.2 633.6,932.2 635.3,931.2 637.0,930.2 638.8,929.2 640.5,928.1 642.2,927.1 643.9,926.1 645.6,925.0 647.3,924.0 649.0,922.9 650.7,921.9 652.4,920.8 654.1,919.7 655.8,918.7 657.4,917.6 659.1,916.5 660.8,915.4 662.5,914.3 664.1,913.1 665.8,912.0 667.4,910.9 669.0,909.7 670.7,908.6 672.3,907.4 673.9,906.2 675.5,905.0 677.1,903.8 678.7,902.6 680.3,901.4 681.9,900.2 683.4,898.9 685.0,897.7 686.5,896.4 688.1,895.1 689.6,893.8 691.1,892.5 692.6,891.2 694.1,889.9 695.6,888.6 697.1,887.2 698.5,885.8 700.0,884.5 701.4,883.1 702.9,881.7 704.3,880.3 705.7,878.9 707.1,877.5 708.5,876.0 709.9,874.6 711.3,873.1 712.6,871.7 714.0,870.2 715.4,868.7 716.7,867.3 718.0,865.8 719.4,864.3 720.7,862.8 722.0,861.2 723.3,859.7 724.5,858.2 725.8,856.6 727.1,855.1 728.4,853.5 729.6,852.0 730.9,850.4 732.1,848.9 733.3,847.3 734.5,845.7 735.7,844.1 737.0,842.5 738.1,840.9 739.3,839.3 740.5,837.7 741.7,836.1 742.9,834.4 744.0,832.8 745.2,831.2 746.3,829.5 747.5,827.9 748.6,826.2 749.7,824.6 750.8,822.9 751.9,821.3 753.0,819.6 754.1,817.9 755.2,816.3 756.3,814.6 757.4,812.9 758.5,811.2 759.6,809.5 760.6,807.8 761.7,806.1 762.7,804.4 763.8,802.7 764.8,801.0 765.9,799.3 766.9,797.6 767.9,795.9 769.0,794.2 770.0,792.5 771.0,790.8 772.0,789.0 773.0,787.3 774.0,785.6 775.0,783.8 776.0,782.1 777.0,780.4 778.0,778.6 779.0,776.9 780.0,775.2 781.0,773.4 782.0,771.7 782.9,769.9 783.9,768.2 784.9,766.4 785.9,764.7 786.8,762.9 787.8,761.2 788.8,759.4 789.7,757.7 790.7,755.9 791.6,754.2 792.6,752.4 793.5,750.7 794.5,748.9 795.4,747.1 796.4,745.4 797.3,743.6 798.3,741.9 799.2,740.1 800.2,738.3 801.1,736.6 802.1,734.8 803.0,733.0 803.9,731.3 804.9,729.5 805.8,727.7 806.7,726.0 807.7,724.2 808.6,722.4 809.5,720.7 810.5,718.9 811.4,717.1 812.3,715.4 813.2,713.6 814.2,711.8 815.1,710.0 816.0,708.3 816.9,706.5 817.8,704.7 818.7,702.9 819.7,701.1 820.6,699.4 821.5,697.6 822.4,695.8 823.3,694.0 824.2,692.2 825.1,690.5 826.0,688.7 826.9,686.9 827.8,685.1 828.7,683.3 829.6,681.5 830.5,679.7 831.4,677.9 832.3,676.2 833.2,674.4 834.1,672.6 834.9,670.8 835.8,669.0 836.7,667.2 837.6,665.4 838.5,663.6 839.3,661.8 840.2,660.0 841.1,658.2 842.0,656.4 842.8,654.6 843.7,652.8 844.6,651.0 845.4,649.2 846.3,647.4 847.1,645.6 848.0,643.8 848.9,642.0 849.7,640.2 850.6,638.4 851.4,636.5 852.3,634.7 853.1,632.9 854.0,631.1 854.8,629.3 855.6,627.5 856.5,625.7 857.3,623.9 858.2,622.0 859.0,620.2 859.8,618.4 860.6,616.6 861.5,614.8 862.3,612.9 863.1,611.1 863.9,609.3 864.8,607.5 865.6,605.6 866.4,603.8 867.2,602.0 868.0,600.2 868.8,598.3 869.6,596.5 870.4,594.7 871.2,592.8 872.0,591.0 872.8,589.2 873.6,587.3 874.4,585.5 875.2,583.7 876.0,581.8 876.8,580.0 877.6,578.2 878.4,576.3 879.2,574.5 880.0,572.6 880.7,570.8 881.5,569.0 882.3,567.1 883.1,565.3 883.8,563.4 884.6,561.6 885.4,559.8 886.2,557.9 886.9,556.1 887.7,554.2 888.5,552.4 889.2,550.5 890.0,548.7 890.8,546.8 891.5,545.0 892.3,543.1 893.1,541.3 893.8,539.4 894.6,537.6 895.3,535.7 896.1,533.9 896.9,532.0 897.6,530.2 898.4,528.3 899.1,526.5 899.9,524.6 900.6,522.8 901.4,520.9 902.2,519.1 902.9,517.2 903.7,515.4 904.4,513.5 905.2,511.7 905.9,509.8 906.7,508.0 907.4,506.1 908.2,504.3 908.9,502.4 909.7,500.6 910.4,498.7 911.2,496.8 911.9,495.0 912.7,493.1 913.4,491.3 914.2,489.4 914.9,487.6 915.7,485.7 916.4,483.9 917.2,482.0 917.9,480.2 918.7,478.3 919.4,476.5 920.2,474.6 920.9,472.8 921.7,470.9 922.4,469.0 923.2,467.2 923.9,465.3 924.7,463.5 925.4,461.6 926.2,459.8 927.0,457.9 927.7,456.1 928.5,454.2 929.2,452.4 930.0,450.5 930.8,448.7 931.5,446.8 932.3,445.0 933.0,443.1 933.8,441.3 934.6,439.4 935.3,437.6 936.1,435.8 936.9,433.9 937.6,432.1 938.4,430.2 939.2,428.4 939.9,426.5 940.7,424.7 941.5,422.8 942.3,421.0 943.1,419.2 943.8,417.3 944.6,415.5 945.4,413.6 946.2,411.8 947.0,410.0 947.8,408.1 948.5,406.3 949.3,404.4 950.1,402.6 950.9,400.8 951.7,398.9 952.5,397.1 953.3,395.3 954.1,393.4 954.9,391.6 955.7,389.8 956.5,387.9 957.3,386.1 958.1,384.3 959.0,382.5 959.8,380.6 960.6,378.8 961.4,377.0 962.2,375.2 963.1,373.3 963.9,371.5 964.7,369.7 965.5,367.9 966.4,366.1 967.2,364.3 968.1,362.4 968.9,360.6 969.7,358.8 970.6,357.0 971.4,355.2 972.3,353.4 973.1,351.6 974.0,349.8 974.9,348.0 975.7,346.2 976.6,344.4 977.5,342.6 978.3,340.8 979.2,339.0 980.1,337.2 981.0,335.4 981.8,333.6 982.7,331.8 983.6,330.0 984.5,328.2 985.4,326.4 986.3,324.6 987.2,322.8 988.1,321.1 989.0,319.3 989.9,317.5 990.8,315.7 991.8,313.9 992.7,312.2 993.6,310.4 994.5,308.6 995.5,306.9 996.4,305.1 997.3,303.3 998.3,301.6 999.2,299.8 1000.2,298.0 1001.1,296.3 1002.1,294.5 1003.1,292.8 1004.0,291.0 1005.0,289.3 1006.0,287.5 1007.0,285.8 1007.9,284.0 1008.9,282.3 1009.9,280.6 1010.9,278.8 1011.9,277.1 1012.9,275.4 1013.9,273.7 1015.0,272.0 1016.1,270.3 1017.2,268.6 1018.3,267.0 1019.5,265.4 1020.7,263.8 1022.0,262.2 1023.3,260.7 1024.7,259.3 1026.1,257.9 1027.6,256.6 1029.2,255.3 1030.8,254.1 1032.5,253.0 1034.2,252.0 1035.9,251.1 1037.7,250.2 1039.6,249.4 1041.4,248.6 1043.3,247.9 1045.2,247.3 1047.1,246.8 1049.1,246.3 1051.0,245.9 1053.0,245.5 1055.0,245.2 1056.9,244.9 1058.9,244.7 1060.9,244.6 1062.9,244.5 1064.9,244.5 1066.9,244.5 1068.9,244.6 1070.9,244.7 1072.9,244.9 1074.9,245.2 1076.9,245.6 1078.8,246.0 1080.8,246.5 1082.7,247.0 1084.6,247.7 1086.4,248.4 1088.3,249.2 1090.1,250.1 1091.8,251.0 1093.6,252.0 1095.2,253.1 1096.9,254.2 1098.5,255.4 1100.0,256.7 1101.5,258.0 1103.0,259.4 1104.4,260.8 1105.7,262.3 1107.1,263.8 1108.4,265.3 1109.6,266.9 1110.9,268.4 1112.0,270.0 1113.2,271.7 1114.4,273.3 1115.5,275.0 1116.6,276.6 1117.6,278.3 1118.7,280.0 1119.8,281.7 1120.8,283.4 1121.8,285.1 1122.8,286.9 1123.9,288.6 1124.8,290.3 1125.8,292.1 1126.8,293.8 1127.8,295.6 1128.7,297.3 1129.7,299.1 1130.6,300.8 1131.6,302.6 1132.5,304.4 1133.4,306.2 1134.3,307.9 1135.2,309.7 1136.1,311.5 1137.0,313.3 1137.8,315.1 1138.7,316.9 1139.6,318.7 1140.4,320.5 1141.3,322.3 1142.1,324.2 1142.9,326.0 1143.8,327.8 1144.6,329.6 1145.4,331.4 1146.2,333.3 1147.0,335.1 1147.8,336.9 1148.6,338.8 1149.4,340.6 1150.2,342.4 1151.0,344.3 1151.8,346.1 1152.6,347.9 1153.4,349.8 1154.1,351.6 1154.9,353.5 1155.7,355.3 1156.4,357.2 1157.2,359.0 1158.0,360.9 1158.7,362.7 1159.5,364.6 1160.3,366.4 1161.0,368.3 1161.8,370.1 1162.5,372.0 1163.2,373.8 1164.0,375.7 1164.7,377.5 1165.5,379.4 1166.2,381.3 1166.9,383.1 1167.7,385.0 1168.4,386.8 1169.1,388.7 1169.9,390.6 1170.6,392.4 1171.3,394.3 1172.0,396.2 1172.7,398.0 1173.4,399.9 1174.2,401.8 1174.9,403.6 1175.6,405.5 1176.3,407.4 1177.0,409.2 1177.7,411.1 1178.4,413.0 1179.1,414.9 1179.8,416.7 1180.5,418.6 1181.2,420.5 1181.9,422.4 1182.5,424.2 1183.2,426.1 1183.9,428.0 1184.6,429.9 1185.3,431.8 1186.0,433.6 1186.6,435.5 1187.3,437.4 1188.0,439.3 1188.7,441.2 1189.3,443.0 1190.0,444.9 1190.7,446.8 1191.4,448.7 1192.0,450.6 1192.7,452.5 1193.4,454.4 1194.0,456.2 1194.7,458.1 1195.3,460.0 1196.0,461.9 1196.7,463.8 1197.3,465.7 1198.0,467.6 1198.6,469.5 1199.3,471.3 1199.9,473.2 1200.6,475.1 1201.2,477.0 1201.9,478.9 1202.5,480.8 1203.2,482.7 1203.8,484.6 1204.5,486.5 1205.1,488.4 1205.8,490.3 1206.4,492.2 1207.0,494.1 1207.7,495.9 1208.3,497.8 1209.0,499.7 1209.6,501.6 1210.2,503.5 1210.9,505.4 1211.5,507.3 1212.1,509.2 1212.8,511.1 1213.4,513.0 1214.0,514.9 1214.7,516.8 1215.3,518.7 1215.9,520.6 1216.6,522.5 1217.2,524.4 1217.8,526.3 1218.5,528.2 1219.1,530.1 1219.7,532.0 1220.4,533.9 1221.0,535.8 1221.6,537.7 1222.3,539.6 1222.9,541.5 1223.5,543.4 1224.1,545.3 1224.8,547.2 1225.4,549.1 1226.0,551.0 1226.7,552.9 1227.3,554.7 1227.9,556.6 1228.5,558.5 1229.2,560.4 1229.8,562.3 1230.4,564.2 1231.1,566.1 1231.7,568.0 1232.3,569.9 1233.0,571.8 1233.6,573.7 1234.2,575.6 1234.8,577.5 1235.5,579.4 1236.1,581.3 1236.7,583.2 1237.4,585.1 1238.0,587.0 1238.6,588.9 1239.3,590.8 1239.9,592.7 1240.5,594.6 1241.2,596.5 1241.8,598.4 1242.5,600.3 1243.1,602.2 1243.7,604.1 1244.4,606.0 1245.0,607.9 1245.6,609.8 1246.3,611.6 1246.9,613.5 1247.6,615.4 1248.2,617.3 1248.9,619.2 1249.5,621.1 1250.1,623.0 1250.8,624.9 1251.4,626.8 1252.1,628.7 1252.7,630.6 1253.4,632.5 1254.0,634.4 1254.7,636.2 1255.4,638.1 1256.0,640.0 1256.7,641.9 1257.3,643.8 1258.0,645.7 1258.6,647.6 1259.3,649.5 1260.0,651.3 1260.6,653.2 1261.3,655.1 1262.0,657.0 1262.6,658.9 1263.3,660.8 1264.0,662.7 1264.6,664.5 1265.3,666.4 1266.0,668.3 1266.7,670.2 1267.4,672.1 1268.0,673.9 1268.7,675.8 1269.4,677.7 1270.1,679.6 1270.8,681.5 1271.5,683.3 1272.1,685.2 1272.8,687.1 1273.5,689.0 1274.2,690.8 1274.9,692.7 1275.6,694.6 1276.3,696.5 1277.0,698.3 1277.7,700.2 1278.4,702.1 1279.1,703.9 1279.9,705.8 1280.6,707.7 1281.3,709.5 1282.0,711.4 1282.7,713.3 1283.4,715.1 1284.2,717.0 1284.9,718.9 1285.6,720.7 1286.3,722.6 1287.1,724.5 1287.8,726.3 1288.5,728.2 1289.3,730.1 1290.0,731.9 1290.7,733.8 1291.5,735.6 1292.2,737.5 1292.9,739.3 1293.7,741.2 1294.4,743.0 1295.2,744.9 1295.9,746.8 1296.7,748.6 1297.5,750.5 1298.2,752.3 1299.0,754.2 1299.7,756.0 1300.5,757.9 1301.3,759.7 1302.0,761.5 1302.8,763.4 1303.6,765.2 1304.3,767.1 1305.1,768.9 1305.9,770.8 1306.7,772.6 1307.5,774.4 1308.3,776.3 1309.0,778.1 1309.8,780.0 1310.6,781.8 1311.4,783.6 1312.2,785.5 1313.0,787.3 1313.8,789.1 1314.6,791.0 1315.4,792.8 1316.2,794.6 1317.0,796.4 1317.8,798.3 1318.7,800.1 1319.5,801.9 1320.3,803.8 1321.1,805.6 1321.9,807.4 1322.8,809.2 1323.6,811.0 1324.4,812.9 1325.3,814.7 1326.1,816.5 1326.9,818.3 1327.8,820.1 1328.6,821.9 1329.5,823.7 1330.3,825.6 1331.2,827.4 1332.0,829.2 1332.9,831.0 1333.7,832.8 1334.6,834.6 1335.5,836.4 1336.3,838.2 1337.2,840.0 1338.1,841.8 1339.0,843.6 1339.8,845.4 1340.7,847.2 1341.6,849.0 1342.5,850.8 1343.4,852.5 1344.3,854.3 1345.2,856.1 1346.1,857.9 1347.0,859.7 1348.0,861.4 1348.9,863.2 1349.8,865.0 1350.8,866.7 1351.7,868.5 1352.6,870.3 1353.6,872.0 1354.6,873.8 1355.5,875.5 1356.5,877.3 1357.5,879.0 1358.4,880.8 1359.4,882.5 1360.4,884.2 1361.4,886.0 1362.4,887.7 1363.4,889.4 1364.5,891.2 1365.5,892.9 1366.5,894.6 1367.6,896.3 1368.6,898.0 1369.7,899.7 1370.7,901.4 1371.8,903.1 1372.9,904.8 1373.9,906.5 1375.0,908.1 1376.1,909.8 1377.2,911.5 1378.3,913.1 1379.5,914.8 1380.6,916.4 1381.7,918.1 1382.8,919.7 1384.0,921.4 1385.2,923.0 1386.3,924.6 1387.5,926.2 1388.7,927.9 1389.9,929.5 1391.1,931.1 1392.3,932.7 1393.5,934.3 1394.7,935.8 1395.9,937.4 1397.2,939.0 1398.4,940.5 1399.7,942.1 1400.9,943.6 1402.2,945.2 1403.5,946.7 1404.8,948.2 1406.1,949.8 1407.4,951.3 1408.7,952.8 1410.1,954.3 1411.4,955.7 1412.7,957.2 1414.1,958.7 1415.5,960.1 1416.9,961.6 1418.2,963.0 1419.6,964.5 1421.0,965.9 1422.5,967.3 1423.9,968.7 1425.3,970.1 1426.8,971.5 1428.2,972.8 1429.7,974.2 1431.2,975.5 1432.7,976.9 1434.2,978.2 1435.7,979.5 1437.2,980.8 1438.7,982.1 1440.3,983.4 1441.8,984.7 1443.4,985.9 1444.9,987.2 1446.5,988.4 1448.1,989.6 1449.6,990.9 1451.2,992.1 1452.8,993.3 1454.5,994.4 1456.1,995.6 1457.7,996.8 1459.3,997.9 1461.0,999.1 1462.6,1000.2 1464.3,1001.3 1465.9,1002.4 1467.6,1003.5 1469.3,1004.6 1471.0,1005.7 1472.7,1006.8 1474.4,1007.8 1476.1,1008.8 1477.8,1009.9 1479.5,1010.9 1481.2,1011.9 1483.0,1012.9 1484.7,1013.9 1486.4,1014.9 1488.2,1015.9 1490.0,1016.8 1491.7,1017.8 1493.5,1018.7 1495.3,1019.6 1497.0,1020.5 1498.8,1021.4 1500.6,1022.3 1502.4,1023.2 1504.2,1024.1 1506.0,1025.0 1507.8,1025.8 1509.6,1026.7 1511.4,1027.5 1513.3,1028.3 1515.1,1029.1 1516.9,1029.9 1518.8,1030.7 1520.6,1031.5 1522.4,1032.3 1524.3,1033.0 1526.1,1033.8 1528.0,1034.5 1529.9,1035.3 1531.7,1036.0 1533.6,1036.7 1535.5,1037.4 1537.3,1038.1 1539.2,1038.8 1541.1,1039.5 1543.0,1040.1 1544.9,1040.8 1546.8,1041.4 1548.7,1042.1 1550.6,1042.7 1552.5,1043.3 1554.4,1043.9 1556.3,1044.5 1558.2,1045.1 1560.1,1045.7 1562.0,1046.3 1563.9,1046.8 1565.8,1047.4 1567.8,1047.9 1569.7,1048.5 1571.6,1049.0 1573.6,1049.5 1575.5,1050.0 1577.4,1050.5 1579.4,1051.0 1581.3,1051.5 1583.2,1052.0 1585.2,1052.4 1587.1,1052.9 1589.1,1053.3 1591.0,1053.8 1593.0,1054.2 1594.9,1054.6 1596.9,1055.0 1598.9,1055.5 1600.8,1055.8 1602.8,1056.2 1604.7,1056.6 1606.7,1057.0 1608.7,1057.4 1610.6,1057.7 1612.6,1058.1 1614.6,1058.4 1616.5,1058.7 1618.5,1059.1 1620.5,1059.4 1622.5,1059.7 1624.4,1060.0 1626.4,1060.3 1628.4,1060.6 1630.4,1060.8 1632.4,1061.1 1634.3,1061.4 1636.3,1061.6 1638.3,1061.9 1640.3,1062.1 1642.3,1062.4 1644.3,1062.6 1646.3,1062.8 1648.3,1063.0 1650.2,1063.2 1652.2,1063.4 1654.2,1063.6 1656.2,1063.8 1658.2,1063.9 1660.2,1064.1 1662.2,1064.2 1664.2,1064.4 1666.2,1064.5 1668.2,1064.7 1670.2,1064.8 1672.2,1064.9 1674.2,1065.0 1676.2,1065.1 1678.2,1065.2 1680.2,1065.3 1682.2,1065.4 1684.1,1065.5 1686.1,1065.6 1688.1,1065.7 1690.1,1065.7 1692.1,1065.8 1694.1,1065.8 1696.1,1065.9 1698.1,1065.9 1700.1,1066.0 1702.1,1066.0 1704.1,1066.0 1706.1,1066.1 1708.1,1066.1 1710.1,1066.1 1712.1,1066.1 1714.1,1066.1 1716.1,1066.2 1718.1,1066.2 1720.1,1066.2 1722.1,1066.2 1724.1,1066.2 1726.1,1066.2 1728.1,1066.2 1730.1,1066.2 1732.1,1066.2 1734.1,1066.2 1736.1,1066.1 1738.1,1066.1 1740.1,1066.1 1742.1,1066.1 1744.1,1066.1 1746.1,1066.1 1748.1,1066.1 1750.1,1066.0 1752.1,1066.0 1754.1,1066.0 1756.1,1066.0 1758.1,1066.0 1760.1,1066.0 1762.1,1066.0 1764.1,1066.0 1766.1,1066.0 1768.1,1065.9 1770.1,1065.9 1772.1,1065.9 1774.1,1065.9 1776.1,1065.9 1778.1,1065.9 1780.1,1065.9 1782.1,1065.9 1784.1,1065.9 1786.1,1066.0 1788.1,1066.0 1790.1,1066.0 1792.1,1066.0 1794.1,1066.0 1796.1,1066.0 1798.1,1066.0 1800.1,1066.0 1802.1,1066.0 1804.1,1066.1 1806.1,1066.1 1808.1,1066.1 1810.1,1066.1 1812.1,1066.1 1814.1,1066.1 1816.1,1066.2 1818.1,1066.2 1820.1,1066.2 1822.1,1066.2 1824.1,1066.2 1826.1,1066.3 1828.1,1066.3 1830.1,1066.3 1832.1,1066.3 1834.1,1066.3 1836.1,1066.4 1838.1,1066.4 1840.1,1066.4 1842.1,1066.4 1844.1,1066.4 1846.1,1066.5 1848.1,1066.5 1850.1,1066.5 1852.1,1066.5 1854.1,1066.5 1856.1,1066.6 1858.1,1066.6 1860.1,1066.6 1862.1,1066.6 1864.1,1066.6 1866.1,1066.7 1868.1,1066.7 1870.1,1066.7 1872.1,1066.7 1874.1,1066.7 1876.1,1066.7 1878.1,1066.8 1880.1,1066.8 1882.1,1066.8 1884.1,1066.8 1886.1,1066.8 1888.1,1066.8 1890.1,1066.8 1892.1,1066.8 1894.1,1066.8 1896.1,1066.9 1898.1,1066.9 1900.1,1066.9 1902.1,1066.9 1904.1,1066.9 1906.1,1066.9 1908.1,1066.9 1910.1,1066.9 1912.1,1066.9 1914.1,1066.9 1916.1,1066.9 1918.1,1066.9 1920.1,1066.9 1922.1,1066.9 1924.1,1066.9 1926.1,1066.9 1928.1,1066.9 1930.1,1066.9 1932.1,1066.9 1934.1,1066.9 1936.1,1066.9 1938.1,1066.9 1940.1,1066.9 1942.1,1066.9 1944.1,1066.9 1946.1,1066.9 1948.1,1066.9 1950.1,1066.9 1952.1,1066.9 1954.1,1066.9 1956.1,1066.9 1958.1,1066.9 1960.1,1066.9 1962.1,1066.9 1964.1,1066.9 1966.1,1066.9 1968.1,1066.9 1970.1,1066.8 1972.1,1066.8 1974.1,1066.8 1976.1,1066.8 1978.1,1066.8 1980.1,1066.8 1982.1,1066.8 1984.1,1066.8 1986.1,1066.8 1988.1,1066.8 1990.1,1066.8 1992.1,1066.8 1994.1,1066.8 1996.1,1066.8 1998.1,1066.8 2000.1,1066.8 2002.1,1066.8 2004.1,1066.8 2006.1,1066.8 2008.1,1066.8 2010.1,1066.8 2012.1,1066.8 2014.1,1066.8 2016.1,1066.8 2018.1,1066.8 2020.1,1066.8 2022.1,1066.8 2024.1,1066.8 2026.1,1066.8 2028.1,1066.8 2030.1,1066.8 2032.1,1066.8 2034.1,1066.8 2036.1,1066.8 2038.1,1066.8 2040.1,1066.8 2042.1,1066.8 2044.1,1066.8 2046.1,1066.8 2048.1,1066.8 2050.1,1066.8 2052.1,1066.8 2054.1,1066.8 2056.1,1066.8 2058.1,1066.8 2060.0,1066.8 2062.0,1066.8 2064.0,1066.8 2066.0,1066.8 2068.0,1066.8 2070.0,1066.9 2072.0,1066.9 2074.0,1066.9 2076.0,1066.9 2078.0,1066.9 2080.0,1066.9 2082.0,1066.9 2084.0,1066.9 2086.0,1067.0 2088.0,1067.0 2090.0,1067.0 2092.0,1067.0 2094.0,1067.0 2096.0,1067.1 2098.0,1067.1 2100.0,1067.1" fill="none" stroke="#0ea256" stroke-width="8" stroke-linejoin="round" stroke-linecap="butt"/>
<path d="M374.9,990.1 376.9,990.0 378.9,989.8 380.9,989.6 382.9,989.5 384.9,989.3 386.9,989.1 388.9,989.0 390.9,988.8 392.9,988.7 394.9,988.5 396.9,988.4 398.8,988.2 400.8,988.1 402.8,987.9 404.8,987.8 406.8,987.7 408.8,987.5 410.8,987.4 412.8,987.2 414.8,987.1 416.8,987.0 418.8,986.8 420.8,986.7 422.8,986.5 424.8,986.4 426.8,986.3 428.8,986.1 430.8,986.0 432.7,985.9 434.7,985.7 436.7,985.6 438.7,985.4 440.7,985.3 442.7,985.1 444.7,985.0 446.7,984.8 448.7,984.7 450.7,984.5 452.7,984.4 454.7,984.2 456.7,984.1 458.7,983.9 460.6,983.7 462.6,983.6 464.6,983.4 466.6,983.2 468.6,983.0 470.6,982.9 472.6,982.7 474.6,982.5 476.6,982.3 478.6,982.1 480.6,981.9 482.5,981.7 484.5,981.5 486.5,981.3 488.5,981.1 490.5,980.8 492.5,980.6 494.5,980.4 496.4,980.1 498.4,979.9 500.4,979.6 502.4,979.4 504.4,979.1 506.4,978.8 508.3,978.6 510.3,978.3 512.3,978.0 514.3,977.7 516.2,977.4 518.2,977.1 520.2,976.8 522.2,976.4 524.1,976.1 526.1,975.8 528.1,975.4 530.0,975.1 532.0,974.7 534.0,974.4 535.9,974.0 537.9,973.6 539.9,973.2 541.8,972.8 543.8,972.4 545.7,972.0 547.7,971.5 549.6,971.1 551.6,970.6 553.5,970.2 555.5,969.7 557.4,969.3 559.3,968.8 561.3,968.3 563.2,967.8 565.2,967.3 567.1,966.8 569.0,966.2 570.9,965.7 572.9,965.1 574.8,964.6 576.7,964.0 578.6,963.4 580.5,962.9 582.4,962.3 584.3,961.7 586.2,961.0 588.1,960.4 590.0,959.8 591.9,959.1 593.8,958.5 595.7,957.8 597.6,957.1 599.5,956.5 601.3,955.8 603.2,955.1 605.1,954.4 606.9,953.6 608.8,952.9 610.6,952.2 612.5,951.4 614.3,950.6 616.2,949.9 618.0,949.1 619.9,948.3 621.7,947.5 623.5,946.7 625.3,945.8 627.1,945.0 629.0,944.1 630.8,943.3 632.6,942.4 634.4,941.5 636.1,940.6 637.9,939.7 639.7,938.8 641.5,937.9 643.2,937.0 645.0,936.0 646.8,935.0 648.5,934.1 650.2,933.1 652.0,932.1 653.7,931.1 655.4,930.1 657.1,929.1 658.8,928.0 660.5,927.0 662.2,925.9 663.9,924.8 665.6,923.7 667.3,922.6 668.9,921.5 670.6,920.4 672.2,919.3 673.9,918.1 675.5,917.0 677.1,915.8 678.8,914.6 680.4,913.5 682.0,912.3 683.5,911.0 685.1,909.8 686.7,908.6 688.3,907.3 689.8,906.1 691.4,904.8 692.9,903.5 694.4,902.3 696.0,901.0 697.5,899.7 699.0,898.3 700.5,897.0 702.0,895.7 703.4,894.3 704.9,893.0 706.4,891.6 707.8,890.2 709.3,888.9 710.7,887.5 712.1,886.1 713.5,884.7 715.0,883.2 716.4,881.8 717.7,880.4 719.1,878.9 720.5,877.5 721.9,876.0 723.2,874.6 724.6,873.1 725.9,871.6 727.3,870.1 728.6,868.7 729.9,867.2 731.3,865.7 732.6,864.1 733.9,862.6 735.2,861.1 736.4,859.6 737.7,858.0 739.0,856.5 740.2,854.9 741.5,853.4 742.7,851.8 744.0,850.2 745.2,848.7 746.4,847.1 747.7,845.5 748.9,843.9 750.1,842.3 751.3,840.7 752.5,839.1 753.6,837.5 754.8,835.9 756.0,834.3 757.1,832.6 758.3,831.0 759.5,829.4 760.6,827.7 761.7,826.1 762.9,824.4 764.0,822.8 765.1,821.1 766.2,819.5 767.3,817.8 768.4,816.1 769.5,814.4 770.6,812.8 771.7,811.1 772.7,809.4 773.8,807.7 774.9,806.0 775.9,804.3 777.0,802.6 778.0,800.9 779.1,799.2 780.1,797.5 781.1,795.8 782.2,794.1 783.2,792.4 784.2,790.6 785.2,788.9 786.2,787.2 787.2,785.5 788.2,783.7 789.2,782.0 790.2,780.3 791.2,778.5 792.2,776.8 793.2,775.0 794.1,773.3 795.1,771.6 796.1,769.8 797.1,768.1 798.0,766.3 799.0,764.6 800.0,762.8 800.9,761.1 801.9,759.3 802.8,757.5 803.8,755.8 804.7,754.0 805.7,752.3 806.6,750.5 807.6,748.7 808.5,747.0 809.4,745.2 810.4,743.4 811.3,741.7 812.2,739.9 813.2,738.1 814.1,736.4 815.0,734.6 816.0,732.8 816.9,731.1 817.8,729.3 818.8,727.5 819.7,725.8 820.6,724.0 821.5,722.2 822.4,720.4 823.3,718.7 824.3,716.9 825.2,715.1 826.1,713.3 827.0,711.5 827.9,709.8 828.8,708.0 829.7,706.2 830.6,704.4 831.5,702.6 832.4,700.8 833.3,699.1 834.2,697.3 835.1,695.5 836.0,693.7 836.9,691.9 837.8,690.1 838.7,688.3 839.6,686.5 840.4,684.7 841.3,683.0 842.2,681.2 843.1,679.4 844.0,677.6 844.8,675.8 845.7,674.0 846.6,672.2 847.5,670.4 848.3,668.6 849.2,666.8 850.1,665.0 850.9,663.2 851.8,661.4 852.7,659.6 853.5,657.8 854.4,656.0 855.2,654.2 856.1,652.4 857.0,650.5 857.8,648.7 858.7,646.9 859.5,645.1 860.4,643.3 861.2,641.5 862.0,639.7 862.9,637.9 863.7,636.1 864.6,634.2 865.4,632.4 866.2,630.6 867.1,628.8 867.9,627.0 868.7,625.2 869.6,623.3 870.4,621.5 871.2,619.7 872.1,617.9 872.9,616.1 873.7,614.2 874.5,612.4 875.3,610.6 876.1,608.8 877.0,606.9 877.8,605.1 878.6,603.3 879.4,601.5 880.2,599.6 881.0,597.8 881.8,596.0 882.6,594.1 883.4,592.3 884.2,590.5 885.0,588.6 885.8,586.8 886.6,585.0 887.4,583.1 888.2,581.3 889.0,579.5 889.8,577.6 890.6,575.8 891.3,574.0 892.1,572.1 892.9,570.3 893.7,568.5 894.5,566.6 895.3,564.8 896.0,562.9 896.8,561.1 897.6,559.2 898.4,557.4 899.2,555.6 899.9,553.7 900.7,551.9 901.5,550.0 902.3,548.2 903.0,546.4 903.8,544.5 904.6,542.7 905.3,540.8 906.1,539.0 906.9,537.1 907.6,535.3 908.4,533.4 909.2,531.6 909.9,529.7 910.7,527.9 911.5,526.1 912.2,524.2 913.0,522.4 913.8,520.5 914.5,518.7 915.3,516.8 916.1,515.0 916.8,513.1 917.6,511.3 918.4,509.4 919.1,507.6 919.9,505.7 920.7,503.9 921.4,502.0 922.2,500.2 922.9,498.4 923.7,496.5 924.5,494.7 925.2,492.8 926.0,491.0 926.8,489.1 927.5,487.3 928.3,485.4 929.1,483.6 929.8,481.7 930.6,479.9 931.4,478.0 932.1,476.2 932.9,474.4 933.7,472.5 934.5,470.7 935.2,468.8 936.0,467.0 936.8,465.1 937.5,463.3 938.3,461.4 939.1,459.6 939.9,457.8 940.6,455.9 941.4,454.1 942.2,452.2 943.0,450.4 943.8,448.6 944.5,446.7 945.3,444.9 946.1,443.0 946.9,441.2 947.7,439.4 948.5,437.5 949.3,435.7 950.0,433.9 950.8,432.0 951.6,430.2 952.4,428.4 953.2,426.5 954.0,424.7 954.8,422.9 955.6,421.0 956.4,419.2 957.2,417.4 958.0,415.5 958.8,413.7 959.6,411.9 960.4,410.0 961.3,408.2 962.1,406.4 962.9,404.6 963.7,402.7 964.5,400.9 965.3,399.1 966.1,397.3 966.9,395.4 967.8,393.6 968.6,391.8 969.4,390.0 970.2,388.1 971.0,386.3 971.9,384.5 972.7,382.7 973.5,380.8 974.3,379.0 975.1,377.2 976.0,375.4 976.8,373.6 977.6,371.7 978.4,369.9 979.3,368.1 980.1,366.3 980.9,364.5 981.7,362.6 982.6,360.8 983.4,359.0 984.2,357.2 985.0,355.4 985.9,353.5 986.7,351.7 987.5,349.9 988.3,348.1 989.2,346.3 990.0,344.4 990.8,342.6 991.6,340.8 992.5,339.0 993.3,337.2 994.1,335.3 995.0,333.5 995.8,331.7 996.6,329.9 997.5,328.1 998.3,326.2 999.1,324.4 1000.0,322.6 1000.8,320.8 1001.7,319.0 1002.5,317.2 1003.4,315.4 1004.2,313.6 1005.1,311.8 1005.9,310.0 1006.8,308.2 1007.7,306.4 1008.5,304.6 1009.4,302.8 1010.3,301.0 1011.2,299.2 1012.1,297.4 1013.0,295.6 1013.9,293.8 1014.8,292.0 1015.7,290.3 1016.6,288.5 1017.6,286.7 1018.5,285.0 1019.4,283.2 1020.4,281.4 1021.3,279.7 1022.3,277.9 1023.2,276.2 1024.2,274.4 1025.2,272.7 1026.2,271.0 1027.2,269.2 1028.3,267.5 1029.4,265.9 1030.5,264.2 1031.6,262.5 1032.8,260.9 1033.9,259.3 1035.2,257.7 1036.4,256.2 1037.7,254.7 1039.1,253.2 1040.5,251.7 1041.9,250.3 1043.4,249.0 1044.8,247.6 1046.4,246.4 1048.0,245.1 1049.6,244.0 1051.2,242.8 1052.9,241.8 1054.7,240.8 1056.4,239.8 1058.2,239.0 1060.0,238.1 1061.9,237.4 1063.8,236.7 1065.7,236.1 1067.6,235.5 1069.5,235.0 1071.5,234.6 1073.4,234.3 1075.4,234.0 1077.4,233.8 1079.4,233.7 1081.4,233.6 1083.4,233.6 1085.4,233.8 1087.4,233.9 1089.4,234.2 1091.3,234.6 1093.3,235.0 1095.2,235.6 1097.1,236.2 1099.0,236.9 1100.8,237.7 1102.6,238.6 1104.3,239.6 1106.0,240.6 1107.7,241.7 1109.3,242.9 1110.9,244.1 1112.4,245.4 1113.9,246.8 1115.4,248.1 1116.8,249.6 1118.1,251.0 1119.5,252.5 1120.8,254.0 1122.1,255.5 1123.3,257.1 1124.5,258.7 1125.7,260.3 1126.9,261.9 1128.0,263.6 1129.1,265.2 1130.2,266.9 1131.3,268.6 1132.3,270.3 1133.4,272.0 1134.4,273.7 1135.3,275.5 1136.3,277.2 1137.3,279.0 1138.2,280.8 1139.1,282.5 1140.0,284.3 1140.9,286.1 1141.8,287.9 1142.6,289.7 1143.5,291.5 1144.4,293.3 1145.2,295.1 1146.0,296.9 1146.9,298.8 1147.7,300.6 1148.5,302.4 1149.3,304.2 1150.1,306.1 1150.9,307.9 1151.7,309.7 1152.6,311.5 1153.4,313.4 1154.2,315.2 1155.0,317.0 1155.9,318.8 1156.7,320.6 1157.5,322.5 1158.4,324.3 1159.3,326.1 1160.1,327.9 1161.0,329.7 1161.9,331.4 1162.8,333.2 1163.7,335.0 1164.7,336.8 1165.6,338.5 1166.6,340.3 1167.6,342.0 1168.5,343.8 1169.5,345.5 1170.5,347.2 1171.5,349.0 1172.5,350.7 1173.5,352.4 1174.5,354.2 1175.5,355.9 1176.5,357.6 1177.5,359.4 1178.4,361.1 1179.4,362.9 1180.4,364.6 1181.3,366.4 1182.3,368.1 1183.2,369.9 1184.1,371.7 1185.0,373.5 1185.9,375.3 1186.7,377.1 1187.6,378.9 1188.4,380.7 1189.2,382.5 1190.0,384.4 1190.7,386.2 1191.5,388.1 1192.2,390.0 1192.9,391.8 1193.6,393.7 1194.3,395.6 1195.0,397.5 1195.6,399.3 1196.3,401.2 1196.9,403.1 1197.5,405.0 1198.1,406.9 1198.8,408.8 1199.4,410.7 1200.0,412.6 1200.6,414.6 1201.2,416.5 1201.8,418.4 1202.3,420.3 1202.9,422.2 1203.5,424.1 1204.1,426.0 1204.7,427.9 1205.3,429.8 1206.0,431.7 1206.6,433.6 1207.2,435.5 1207.8,437.4 1208.4,439.3 1209.0,441.2 1209.6,443.1 1210.3,445.0 1210.9,446.9 1211.5,448.8 1212.2,450.7 1212.8,452.6 1213.4,454.5 1214.1,456.4 1214.7,458.3 1215.3,460.2 1216.0,462.1 1216.6,464.0 1217.3,465.9 1217.9,467.8 1218.6,469.7 1219.2,471.5 1219.8,473.4 1220.5,475.3 1221.1,477.2 1221.8,479.1 1222.4,481.0 1223.1,482.9 1223.8,484.8 1224.4,486.7 1225.1,488.6 1225.7,490.4 1226.4,492.3 1227.0,494.2 1227.7,496.1 1228.3,498.0 1229.0,499.9 1229.6,501.8 1230.3,503.7 1230.9,505.6 1231.6,507.4 1232.2,509.3 1232.9,511.2 1233.6,513.1 1234.2,515.0 1234.9,516.9 1235.5,518.8 1236.2,520.7 1236.8,522.6 1237.5,524.4 1238.1,526.3 1238.8,528.2 1239.4,530.1 1240.1,532.0 1240.7,533.9 1241.4,535.8 1242.0,537.7 1242.7,539.6 1243.3,541.5 1244.0,543.3 1244.6,545.2 1245.3,547.1 1245.9,549.0 1246.6,550.9 1247.2,552.8 1247.9,554.7 1248.6,556.6 1249.2,558.5 1249.9,560.3 1250.5,562.2 1251.2,564.1 1251.8,566.0 1252.5,567.9 1253.1,569.8 1253.8,571.7 1254.4,573.6 1255.1,575.5 1255.7,577.4 1256.4,579.2 1257.0,581.1 1257.7,583.0 1258.3,584.9 1259.0,586.8 1259.6,588.7 1260.3,590.6 1260.9,592.5 1261.6,594.4 1262.2,596.2 1262.9,598.1 1263.6,600.0 1264.2,601.9 1264.9,603.8 1265.5,605.7 1266.2,607.6 1266.8,609.5 1267.5,611.4 1268.1,613.2 1268.8,615.1 1269.4,617.0 1270.1,618.9 1270.8,620.8 1271.4,622.7 1272.1,624.6 1272.7,626.5 1273.4,628.3 1274.0,630.2 1274.7,632.1 1275.4,634.0 1276.0,635.9 1276.7,637.8 1277.3,639.7 1278.0,641.6 1278.7,643.4 1279.3,645.3 1280.0,647.2 1280.6,649.1 1281.3,651.0 1282.0,652.9 1282.6,654.8 1283.3,656.7 1283.9,658.5 1284.6,660.4 1285.3,662.3 1285.9,664.2 1286.6,666.1 1287.3,668.0 1287.9,669.9 1288.6,671.7 1289.3,673.6 1289.9,675.5 1290.6,677.4 1291.3,679.3 1291.9,681.2 1292.6,683.0 1293.3,684.9 1294.0,686.8 1294.6,688.7 1295.3,690.6 1296.0,692.4 1296.7,694.3 1297.3,696.2 1298.0,698.1 1298.7,700.0 1299.4,701.8 1300.1,703.7 1300.8,705.6 1301.5,707.5 1302.1,709.3 1302.8,711.2 1303.5,713.1 1304.2,715.0 1304.9,716.8 1305.6,718.7 1306.3,720.6 1307.0,722.5 1307.7,724.3 1308.4,726.2 1309.1,728.1 1309.9,729.9 1310.6,731.8 1311.3,733.7 1312.0,735.5 1312.7,737.4 1313.4,739.3 1314.2,741.1 1314.9,743.0 1315.6,744.8 1316.4,746.7 1317.1,748.6 1317.8,750.4 1318.6,752.3 1319.3,754.1 1320.0,756.0 1320.8,757.9 1321.5,759.7 1322.3,761.6 1323.0,763.4 1323.8,765.3 1324.6,767.1 1325.3,769.0 1326.1,770.8 1326.9,772.6 1327.6,774.5 1328.4,776.3 1329.2,778.2 1330.0,780.0 1330.7,781.9 1331.5,783.7 1332.3,785.5 1333.1,787.4 1333.9,789.2 1334.7,791.0 1335.5,792.9 1336.3,794.7 1337.1,796.5 1337.9,798.3 1338.7,800.2 1339.6,802.0 1340.4,803.8 1341.2,805.6 1342.0,807.4 1342.9,809.3 1343.7,811.1 1344.6,812.9 1345.4,814.7 1346.3,816.5 1347.1,818.3 1348.0,820.1 1348.8,821.9 1349.7,823.7 1350.6,825.5 1351.4,827.3 1352.3,829.1 1353.2,830.9 1354.1,832.7 1355.0,834.5 1355.8,836.3 1356.7,838.1 1357.6,839.9 1358.6,841.6 1359.5,843.4 1360.4,845.2 1361.3,847.0 1362.2,848.8 1363.2,850.5 1364.1,852.3 1365.0,854.1 1366.0,855.8 1366.9,857.6 1367.9,859.3 1368.8,861.1 1369.8,862.8 1370.8,864.6 1371.8,866.3 1372.7,868.1 1373.7,869.8 1374.7,871.5 1375.7,873.3 1376.7,875.0 1377.8,876.7 1378.8,878.4 1379.8,880.1 1380.8,881.8 1381.9,883.6 1382.9,885.3 1384.0,887.0 1385.0,888.7 1386.1,890.3 1387.2,892.0 1388.3,893.7 1389.3,895.4 1390.4,897.1 1391.5,898.7 1392.6,900.4 1393.8,902.1 1394.9,903.7 1396.0,905.4 1397.2,907.0 1398.3,908.6 1399.5,910.3 1400.6,911.9 1401.8,913.5 1403.0,915.1 1404.1,916.7 1405.3,918.3 1406.5,919.9 1407.7,921.5 1409.0,923.1 1410.2,924.7 1411.4,926.3 1412.7,927.8 1413.9,929.4 1415.2,931.0 1416.4,932.5 1417.7,934.0 1419.0,935.6 1420.3,937.1 1421.6,938.6 1422.9,940.1 1424.2,941.6 1425.6,943.1 1426.9,944.6 1428.2,946.1 1429.6,947.5 1431.0,949.0 1432.3,950.5 1433.7,951.9 1435.1,953.3 1436.5,954.8 1437.9,956.2 1439.3,957.6 1440.8,959.0 1442.2,960.4 1443.7,961.7 1445.1,963.1 1446.6,964.5 1448.0,965.8 1449.5,967.2 1451.0,968.5 1452.5,969.8 1454.0,971.1 1455.6,972.4 1457.1,973.7 1458.6,975.0 1460.2,976.2 1461.7,977.5 1463.3,978.8 1464.9,980.0 1466.4,981.2 1468.0,982.4 1469.6,983.6 1471.2,984.8 1472.8,986.0 1474.5,987.2 1476.1,988.3 1477.7,989.5 1479.4,990.6 1481.0,991.8 1482.7,992.9 1484.3,994.0 1486.0,995.1 1487.7,996.2 1489.3,997.3 1491.0,998.3 1492.7,999.4 1494.4,1000.4 1496.1,1001.5 1497.9,1002.5 1499.6,1003.5 1501.3,1004.5 1503.0,1005.5 1504.8,1006.5 1506.5,1007.5 1508.3,1008.5 1510.0,1009.4 1511.8,1010.4 1513.6,1011.3 1515.3,1012.2 1517.1,1013.1 1518.9,1014.0 1520.7,1014.9 1522.5,1015.8 1524.3,1016.7 1526.1,1017.5 1527.9,1018.4 1529.7,1019.2 1531.5,1020.1 1533.3,1020.9 1535.2,1021.7 1537.0,1022.5 1538.8,1023.3 1540.7,1024.1 1542.5,1024.8 1544.4,1025.6 1546.2,1026.4 1548.1,1027.1 1549.9,1027.8 1551.8,1028.5 1553.7,1029.2 1555.5,1029.9 1557.4,1030.6 1559.3,1031.3 1561.2,1032.0 1563.1,1032.6 1565.0,1033.3 1566.9,1033.9 1568.8,1034.5 1570.7,1035.1 1572.6,1035.7 1574.5,1036.3 1576.4,1036.9 1578.3,1037.5 1580.2,1038.1 1582.1,1038.6 1584.1,1039.1 1586.0,1039.7 1587.9,1040.2 1589.9,1040.7 1591.8,1041.2 1593.7,1041.7 1595.7,1042.2 1597.6,1042.7 1599.6,1043.1 1601.5,1043.6 1603.4,1044.0 1605.4,1044.5 1607.4,1044.9 1609.3,1045.3 1611.3,1045.7 1613.2,1046.1 1615.2,1046.5 1617.1,1046.9 1619.1,1047.3 1621.1,1047.6 1623.0,1048.0 1625.0,1048.3 1627.0,1048.7 1628.9,1049.0 1630.9,1049.3 1632.9,1049.7 1634.9,1050.0 1636.8,1050.3 1638.8,1050.6 1640.8,1050.9 1642.8,1051.2 1644.7,1051.4 1646.7,1051.7 1648.7,1052.0 1650.7,1052.2 1652.7,1052.5 1654.7,1052.7 1656.6,1053.0 1658.6,1053.2 1660.6,1053.5 1662.6,1053.7 1664.6,1053.9 1666.6,1054.1 1668.6,1054.3 1670.5,1054.5 1672.5,1054.7 1674.5,1054.9 1676.5,1055.1 1678.5,1055.3 1680.5,1055.5 1682.5,1055.7 1684.5,1055.9 1686.5,1056.0 1688.5,1056.2 1690.5,1056.4 1692.4,1056.5 1694.4,1056.7 1696.4,1056.8 1698.4,1057.0 1700.4,1057.1 1702.4,1057.3 1704.4,1057.4 1706.4,1057.6 1708.4,1057.7 1710.4,1057.8 1712.4,1058.0 1714.4,1058.1 1716.4,1058.2 1718.4,1058.3 1720.4,1058.5 1722.4,1058.6 1724.3,1058.7 1726.3,1058.8 1728.3,1059.0 1730.3,1059.1 1732.3,1059.2 1734.3,1059.3 1736.3,1059.4 1738.3,1059.5 1740.3,1059.6 1742.3,1059.8 1744.3,1059.9 1746.3,1060.0 1748.3,1060.1 1750.3,1060.2 1752.3,1060.3 1754.3,1060.4 1756.3,1060.5 1758.3,1060.6 1760.3,1060.7 1762.3,1060.8 1764.3,1060.9 1766.3,1060.9 1768.3,1061.0 1770.3,1061.1 1772.3,1061.2 1774.3,1061.3 1776.2,1061.4 1778.2,1061.5 1780.2,1061.6 1782.2,1061.6 1784.2,1061.7 1786.2,1061.8 1788.2,1061.9 1790.2,1062.0 1792.2,1062.0 1794.2,1062.1 1796.2,1062.2 1798.2,1062.2 1800.2,1062.3 1802.2,1062.4 1804.2,1062.5 1806.2,1062.5 1808.2,1062.6 1810.2,1062.7 1812.2,1062.7 1814.2,1062.8 1816.2,1062.9 1818.2,1062.9 1820.2,1063.0 1822.2,1063.0 1824.2,1063.1 1826.2,1063.1 1828.2,1063.2 1830.2,1063.3 1832.2,1063.3 1834.2,1063.4 1836.2,1063.4 1838.2,1063.5 1840.2,1063.5 1842.2,1063.6 1844.2,1063.6 1846.2,1063.7 1848.2,1063.7 1850.2,1063.8 1852.2,1063.8 1854.2,1063.9 1856.2,1063.9 1858.2,1063.9 1860.2,1064.0 1862.2,1064.0 1864.2,1064.1 1866.2,1064.1 1868.2,1064.1 1870.1,1064.2 1872.1,1064.2 1874.1,1064.3 1876.1,1064.3 1878.1,1064.3 1880.1,1064.4 1882.1,1064.4 1884.1,1064.4 1886.1,1064.5 1888.1,1064.5 1890.1,1064.5 1892.1,1064.6 1894.1,1064.6 1896.1,1064.6 1898.1,1064.6 1900.1,1064.7 1902.1,1064.7 1904.1,1064.7 1906.1,1064.8 1908.1,1064.8 1910.1,1064.8 1912.1,1064.8 1914.1,1064.9 1916.1,1064.9 1918.1,1064.9 1920.1,1064.9 1922.1,1065.0 1924.1,1065.0 1926.1,1065.0 1928.1,1065.0 1930.1,1065.0 1932.1,1065.1 1934.1,1065.1 1936.1,1065.1 1938.1,1065.1 1940.1,1065.1 1942.1,1065.2 1944.1,1065.2 1946.1,1065.2 1948.1,1065.2 1950.1,1065.2 1952.1,1065.2 1954.1,1065.3 1956.1,1065.3 1958.1,1065.3 1960.1,1065.3 1962.1,1065.3 1964.1,1065.3 1966.1,1065.4 1968.1,1065.4 1970.1,1065.4 1972.1,1065.4 1974.1,1065.4 1976.1,1065.4 1978.1,1065.4 1980.1,1065.5 1982.1,1065.5 1984.1,1065.5 1986.1,1065.5 1988.1,1065.5 1990.1,1065.5 1992.1,1065.5 1994.1,1065.5 1996.1,1065.6 1998.1,1065.6 2000.1,1065.6 2002.1,1065.6 2004.1,1065.6 2006.1,1065.6 2008.1,1065.6 2010.1,1065.6 2012.1,1065.7 2014.1,1065.7 2016.1,1065.7 2018.1,1065.7 2020.1,1065.7 2022.1,1065.7 2024.1,1065.7 2026.0,1065.7 2028.0,1065.8 2030.0,1065.8 2032.0,1065.8 2034.0,1065.8 2036.0,1065.8 2038.0,1065.8 2040.0,1065.8 2042.0,1065.9 2044.0,1065.9 2046.0,1065.9 2048.0,1065.9 2050.0,1065.9 2052.0,1065.9 2054.0,1065.9 2056.0,1066.0 2058.0,1066.0 2060.0,1066.0 2062.0,1066.0 2064.0,1066.0 2066.0,1066.0 2068.0,1066.1 2070.0,1066.1 2072.0,1066.1 2074.0,1066.1 2076.0,1066.1 2078.0,1066.2 2080.0,1066.2 2082.0,1066.2 2084.0,1066.2 2086.0,1066.2 2088.0,1066.3 2090.0,1066.3 2092.0,1066.3 2094.0,1066.3 2096.0,1066.4 2098.0,1066.4 2100.0,1066.4" fill="none" stroke="#662b92" stroke-width="8" stroke-linejoin="round" stroke-linecap="butt"/>
</g>
</svg>
</div></body></html>
